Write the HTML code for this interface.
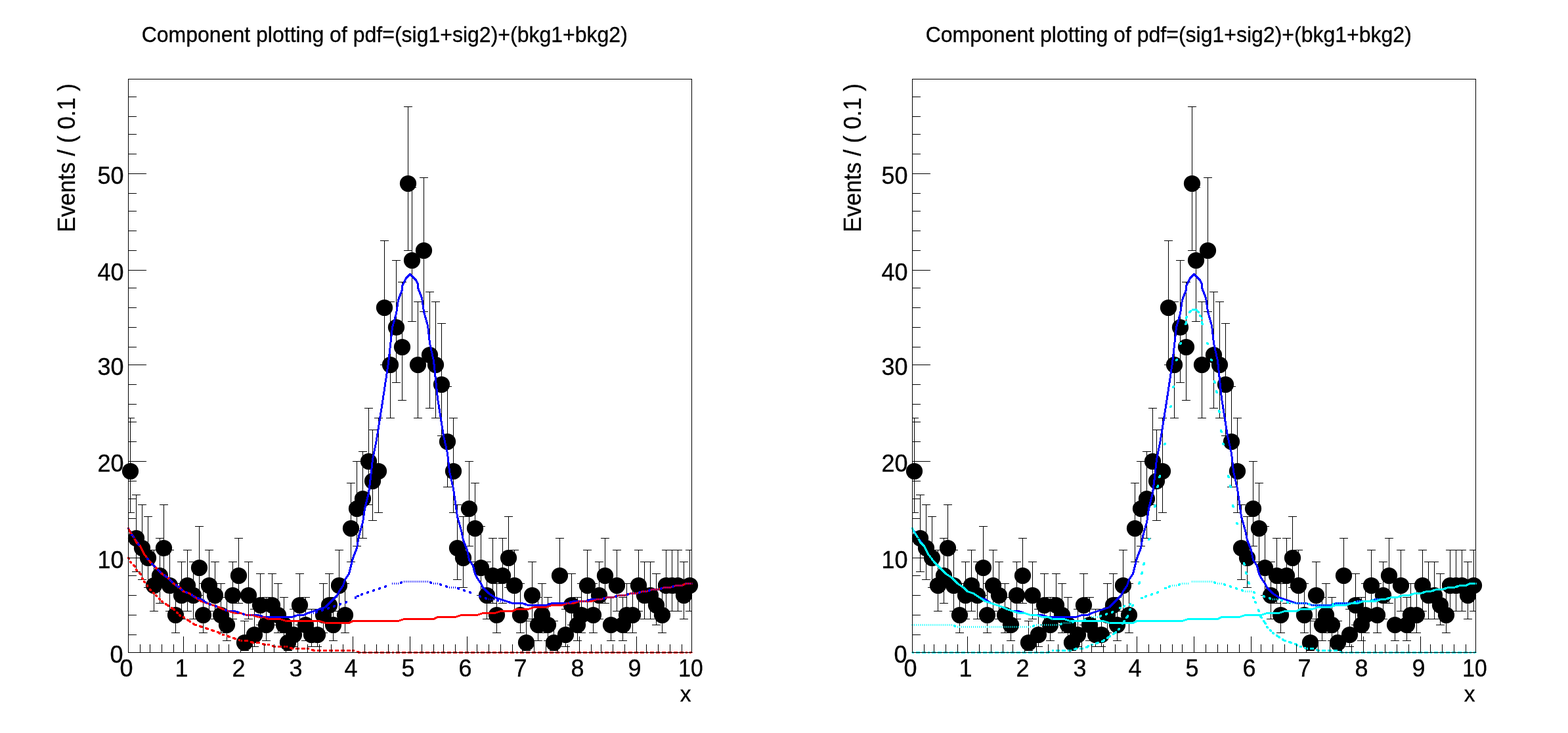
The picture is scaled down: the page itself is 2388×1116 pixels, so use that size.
<!DOCTYPE html>
<html lang="en"><head><meta charset="utf-8"><title>rf205_compplot</title>
<style>html,body{margin:0;padding:0;background:#fff;overflow:hidden}svg{display:block}</style>
</head><body>
<svg width="2388" height="1116" viewBox="0 0 2388 1116">
<rect width="2388" height="1116" fill="#fff"/>
<defs>
<clipPath id="clip0"><rect x="194" y="119" width="861" height="876"/></clipPath>
<clipPath id="clip1"><rect x="1388" y="119" width="861" height="876"/></clipPath>
</defs>
<g shape-rendering="crispEdges">
<rect x="198" y="636" width="1" height="145" fill="#000"/>
<rect x="195" y="636" width="10" height="1" fill="#000"/>
<rect x="195" y="780" width="10" height="1" fill="#000"/>
<rect x="207" y="753" width="1" height="118" fill="#000"/>
<rect x="201" y="753" width="13" height="1" fill="#000"/>
<rect x="201" y="870" width="13" height="1" fill="#000"/>
<rect x="216" y="768" width="1" height="115" fill="#000"/>
<rect x="210" y="768" width="13" height="1" fill="#000"/>
<rect x="210" y="882" width="13" height="1" fill="#000"/>
<rect x="225" y="786" width="1" height="109" fill="#000"/>
<rect x="219" y="786" width="13" height="1" fill="#000"/>
<rect x="219" y="894" width="13" height="1" fill="#000"/>
<rect x="234" y="837" width="1" height="94" fill="#000"/>
<rect x="228" y="837" width="13" height="1" fill="#000"/>
<rect x="228" y="930" width="13" height="1" fill="#000"/>
<rect x="243" y="819" width="1" height="100" fill="#000"/>
<rect x="237" y="819" width="13" height="1" fill="#000"/>
<rect x="237" y="918" width="13" height="1" fill="#000"/>
<rect x="249" y="768" width="1" height="115" fill="#000"/>
<rect x="243" y="768" width="13" height="1" fill="#000"/>
<rect x="243" y="882" width="13" height="1" fill="#000"/>
<rect x="258" y="837" width="1" height="94" fill="#000"/>
<rect x="252" y="837" width="13" height="1" fill="#000"/>
<rect x="252" y="930" width="13" height="1" fill="#000"/>
<rect x="267" y="888" width="1" height="76" fill="#000"/>
<rect x="261" y="888" width="13" height="1" fill="#000"/>
<rect x="261" y="963" width="13" height="1" fill="#000"/>
<rect x="276" y="855" width="1" height="88" fill="#000"/>
<rect x="270" y="855" width="13" height="1" fill="#000"/>
<rect x="270" y="942" width="13" height="1" fill="#000"/>
<rect x="285" y="837" width="1" height="94" fill="#000"/>
<rect x="279" y="837" width="13" height="1" fill="#000"/>
<rect x="279" y="930" width="13" height="1" fill="#000"/>
<rect x="294" y="855" width="1" height="88" fill="#000"/>
<rect x="288" y="855" width="13" height="1" fill="#000"/>
<rect x="288" y="942" width="13" height="1" fill="#000"/>
<rect x="303" y="801" width="1" height="106" fill="#000"/>
<rect x="297" y="801" width="13" height="1" fill="#000"/>
<rect x="297" y="906" width="13" height="1" fill="#000"/>
<rect x="309" y="888" width="1" height="76" fill="#000"/>
<rect x="303" y="888" width="13" height="1" fill="#000"/>
<rect x="303" y="963" width="13" height="1" fill="#000"/>
<rect x="318" y="837" width="1" height="94" fill="#000"/>
<rect x="312" y="837" width="13" height="1" fill="#000"/>
<rect x="312" y="930" width="13" height="1" fill="#000"/>
<rect x="327" y="855" width="1" height="88" fill="#000"/>
<rect x="321" y="855" width="13" height="1" fill="#000"/>
<rect x="321" y="942" width="13" height="1" fill="#000"/>
<rect x="336" y="888" width="1" height="76" fill="#000"/>
<rect x="330" y="888" width="13" height="1" fill="#000"/>
<rect x="330" y="963" width="13" height="1" fill="#000"/>
<rect x="345" y="909" width="1" height="67" fill="#000"/>
<rect x="339" y="909" width="13" height="1" fill="#000"/>
<rect x="339" y="975" width="13" height="1" fill="#000"/>
<rect x="354" y="855" width="1" height="88" fill="#000"/>
<rect x="348" y="855" width="13" height="1" fill="#000"/>
<rect x="348" y="942" width="13" height="1" fill="#000"/>
<rect x="363" y="819" width="1" height="100" fill="#000"/>
<rect x="357" y="819" width="13" height="1" fill="#000"/>
<rect x="357" y="918" width="13" height="1" fill="#000"/>
<rect x="372" y="945" width="1" height="46" fill="#000"/>
<rect x="366" y="945" width="13" height="1" fill="#000"/>
<rect x="366" y="990" width="13" height="1" fill="#000"/>
<rect x="378" y="855" width="1" height="88" fill="#000"/>
<rect x="372" y="855" width="13" height="1" fill="#000"/>
<rect x="372" y="942" width="13" height="1" fill="#000"/>
<rect x="387" y="927" width="1" height="58" fill="#000"/>
<rect x="381" y="927" width="13" height="1" fill="#000"/>
<rect x="381" y="984" width="13" height="1" fill="#000"/>
<rect x="396" y="873" width="1" height="79" fill="#000"/>
<rect x="390" y="873" width="13" height="1" fill="#000"/>
<rect x="390" y="951" width="13" height="1" fill="#000"/>
<rect x="405" y="909" width="1" height="67" fill="#000"/>
<rect x="399" y="909" width="13" height="1" fill="#000"/>
<rect x="399" y="975" width="13" height="1" fill="#000"/>
<rect x="414" y="873" width="1" height="79" fill="#000"/>
<rect x="408" y="873" width="13" height="1" fill="#000"/>
<rect x="408" y="951" width="13" height="1" fill="#000"/>
<rect x="423" y="888" width="1" height="76" fill="#000"/>
<rect x="417" y="888" width="13" height="1" fill="#000"/>
<rect x="417" y="963" width="13" height="1" fill="#000"/>
<rect x="432" y="909" width="1" height="67" fill="#000"/>
<rect x="426" y="909" width="13" height="1" fill="#000"/>
<rect x="426" y="975" width="13" height="1" fill="#000"/>
<rect x="438" y="945" width="1" height="46" fill="#000"/>
<rect x="432" y="945" width="13" height="1" fill="#000"/>
<rect x="432" y="990" width="13" height="1" fill="#000"/>
<rect x="447" y="927" width="1" height="58" fill="#000"/>
<rect x="441" y="927" width="13" height="1" fill="#000"/>
<rect x="441" y="984" width="13" height="1" fill="#000"/>
<rect x="456" y="873" width="1" height="79" fill="#000"/>
<rect x="450" y="873" width="13" height="1" fill="#000"/>
<rect x="450" y="951" width="13" height="1" fill="#000"/>
<rect x="465" y="909" width="1" height="67" fill="#000"/>
<rect x="459" y="909" width="13" height="1" fill="#000"/>
<rect x="459" y="975" width="13" height="1" fill="#000"/>
<rect x="474" y="927" width="1" height="58" fill="#000"/>
<rect x="468" y="927" width="13" height="1" fill="#000"/>
<rect x="468" y="984" width="13" height="1" fill="#000"/>
<rect x="483" y="927" width="1" height="58" fill="#000"/>
<rect x="477" y="927" width="13" height="1" fill="#000"/>
<rect x="477" y="984" width="13" height="1" fill="#000"/>
<rect x="492" y="888" width="1" height="76" fill="#000"/>
<rect x="486" y="888" width="13" height="1" fill="#000"/>
<rect x="486" y="963" width="13" height="1" fill="#000"/>
<rect x="501" y="873" width="1" height="79" fill="#000"/>
<rect x="495" y="873" width="13" height="1" fill="#000"/>
<rect x="495" y="951" width="13" height="1" fill="#000"/>
<rect x="507" y="909" width="1" height="67" fill="#000"/>
<rect x="501" y="909" width="13" height="1" fill="#000"/>
<rect x="501" y="975" width="13" height="1" fill="#000"/>
<rect x="516" y="837" width="1" height="94" fill="#000"/>
<rect x="510" y="837" width="13" height="1" fill="#000"/>
<rect x="510" y="930" width="13" height="1" fill="#000"/>
<rect x="525" y="888" width="1" height="76" fill="#000"/>
<rect x="519" y="888" width="13" height="1" fill="#000"/>
<rect x="519" y="963" width="13" height="1" fill="#000"/>
<rect x="534" y="735" width="1" height="121" fill="#000"/>
<rect x="528" y="735" width="13" height="1" fill="#000"/>
<rect x="528" y="855" width="13" height="1" fill="#000"/>
<rect x="543" y="702" width="1" height="130" fill="#000"/>
<rect x="537" y="702" width="13" height="1" fill="#000"/>
<rect x="537" y="831" width="13" height="1" fill="#000"/>
<rect x="552" y="687" width="1" height="133" fill="#000"/>
<rect x="546" y="687" width="13" height="1" fill="#000"/>
<rect x="546" y="819" width="13" height="1" fill="#000"/>
<rect x="561" y="621" width="1" height="148" fill="#000"/>
<rect x="555" y="621" width="13" height="1" fill="#000"/>
<rect x="555" y="768" width="13" height="1" fill="#000"/>
<rect x="567" y="654" width="1" height="139" fill="#000"/>
<rect x="561" y="654" width="13" height="1" fill="#000"/>
<rect x="561" y="792" width="13" height="1" fill="#000"/>
<rect x="576" y="636" width="1" height="145" fill="#000"/>
<rect x="570" y="636" width="13" height="1" fill="#000"/>
<rect x="570" y="780" width="13" height="1" fill="#000"/>
<rect x="585" y="366" width="1" height="190" fill="#000"/>
<rect x="579" y="366" width="13" height="1" fill="#000"/>
<rect x="579" y="555" width="13" height="1" fill="#000"/>
<rect x="594" y="459" width="1" height="178" fill="#000"/>
<rect x="588" y="459" width="13" height="1" fill="#000"/>
<rect x="588" y="636" width="13" height="1" fill="#000"/>
<rect x="603" y="396" width="1" height="187" fill="#000"/>
<rect x="597" y="396" width="13" height="1" fill="#000"/>
<rect x="597" y="582" width="13" height="1" fill="#000"/>
<rect x="612" y="429" width="1" height="181" fill="#000"/>
<rect x="606" y="429" width="13" height="1" fill="#000"/>
<rect x="606" y="609" width="13" height="1" fill="#000"/>
<rect x="621" y="162" width="1" height="220" fill="#000"/>
<rect x="615" y="162" width="13" height="1" fill="#000"/>
<rect x="615" y="381" width="13" height="1" fill="#000"/>
<rect x="627" y="285" width="1" height="205" fill="#000"/>
<rect x="621" y="285" width="13" height="1" fill="#000"/>
<rect x="621" y="489" width="13" height="1" fill="#000"/>
<rect x="636" y="459" width="1" height="178" fill="#000"/>
<rect x="630" y="459" width="13" height="1" fill="#000"/>
<rect x="630" y="636" width="13" height="1" fill="#000"/>
<rect x="645" y="270" width="1" height="205" fill="#000"/>
<rect x="639" y="270" width="13" height="1" fill="#000"/>
<rect x="639" y="474" width="13" height="1" fill="#000"/>
<rect x="654" y="444" width="1" height="178" fill="#000"/>
<rect x="648" y="444" width="13" height="1" fill="#000"/>
<rect x="648" y="621" width="13" height="1" fill="#000"/>
<rect x="663" y="459" width="1" height="178" fill="#000"/>
<rect x="657" y="459" width="13" height="1" fill="#000"/>
<rect x="657" y="636" width="13" height="1" fill="#000"/>
<rect x="672" y="492" width="1" height="172" fill="#000"/>
<rect x="666" y="492" width="13" height="1" fill="#000"/>
<rect x="666" y="663" width="13" height="1" fill="#000"/>
<rect x="681" y="588" width="1" height="154" fill="#000"/>
<rect x="675" y="588" width="13" height="1" fill="#000"/>
<rect x="675" y="741" width="13" height="1" fill="#000"/>
<rect x="690" y="636" width="1" height="145" fill="#000"/>
<rect x="684" y="636" width="13" height="1" fill="#000"/>
<rect x="684" y="780" width="13" height="1" fill="#000"/>
<rect x="696" y="768" width="1" height="115" fill="#000"/>
<rect x="690" y="768" width="13" height="1" fill="#000"/>
<rect x="690" y="882" width="13" height="1" fill="#000"/>
<rect x="705" y="786" width="1" height="109" fill="#000"/>
<rect x="699" y="786" width="13" height="1" fill="#000"/>
<rect x="699" y="894" width="13" height="1" fill="#000"/>
<rect x="714" y="702" width="1" height="130" fill="#000"/>
<rect x="708" y="702" width="13" height="1" fill="#000"/>
<rect x="708" y="831" width="13" height="1" fill="#000"/>
<rect x="723" y="735" width="1" height="121" fill="#000"/>
<rect x="717" y="735" width="13" height="1" fill="#000"/>
<rect x="717" y="855" width="13" height="1" fill="#000"/>
<rect x="732" y="801" width="1" height="106" fill="#000"/>
<rect x="726" y="801" width="13" height="1" fill="#000"/>
<rect x="726" y="906" width="13" height="1" fill="#000"/>
<rect x="741" y="855" width="1" height="88" fill="#000"/>
<rect x="735" y="855" width="13" height="1" fill="#000"/>
<rect x="735" y="942" width="13" height="1" fill="#000"/>
<rect x="750" y="819" width="1" height="100" fill="#000"/>
<rect x="744" y="819" width="13" height="1" fill="#000"/>
<rect x="744" y="918" width="13" height="1" fill="#000"/>
<rect x="756" y="888" width="1" height="76" fill="#000"/>
<rect x="750" y="888" width="13" height="1" fill="#000"/>
<rect x="750" y="963" width="13" height="1" fill="#000"/>
<rect x="765" y="819" width="1" height="100" fill="#000"/>
<rect x="759" y="819" width="13" height="1" fill="#000"/>
<rect x="759" y="918" width="13" height="1" fill="#000"/>
<rect x="774" y="786" width="1" height="109" fill="#000"/>
<rect x="768" y="786" width="13" height="1" fill="#000"/>
<rect x="768" y="894" width="13" height="1" fill="#000"/>
<rect x="783" y="837" width="1" height="94" fill="#000"/>
<rect x="777" y="837" width="13" height="1" fill="#000"/>
<rect x="777" y="930" width="13" height="1" fill="#000"/>
<rect x="792" y="888" width="1" height="76" fill="#000"/>
<rect x="786" y="888" width="13" height="1" fill="#000"/>
<rect x="786" y="963" width="13" height="1" fill="#000"/>
<rect x="801" y="945" width="1" height="46" fill="#000"/>
<rect x="795" y="945" width="13" height="1" fill="#000"/>
<rect x="795" y="990" width="13" height="1" fill="#000"/>
<rect x="810" y="855" width="1" height="88" fill="#000"/>
<rect x="804" y="855" width="13" height="1" fill="#000"/>
<rect x="804" y="942" width="13" height="1" fill="#000"/>
<rect x="819" y="909" width="1" height="67" fill="#000"/>
<rect x="813" y="909" width="13" height="1" fill="#000"/>
<rect x="813" y="975" width="13" height="1" fill="#000"/>
<rect x="825" y="888" width="1" height="76" fill="#000"/>
<rect x="819" y="888" width="13" height="1" fill="#000"/>
<rect x="819" y="963" width="13" height="1" fill="#000"/>
<rect x="834" y="909" width="1" height="67" fill="#000"/>
<rect x="828" y="909" width="13" height="1" fill="#000"/>
<rect x="828" y="975" width="13" height="1" fill="#000"/>
<rect x="843" y="945" width="1" height="46" fill="#000"/>
<rect x="837" y="945" width="13" height="1" fill="#000"/>
<rect x="837" y="990" width="13" height="1" fill="#000"/>
<rect x="852" y="819" width="1" height="100" fill="#000"/>
<rect x="846" y="819" width="13" height="1" fill="#000"/>
<rect x="846" y="918" width="13" height="1" fill="#000"/>
<rect x="861" y="927" width="1" height="58" fill="#000"/>
<rect x="855" y="927" width="13" height="1" fill="#000"/>
<rect x="855" y="984" width="13" height="1" fill="#000"/>
<rect x="870" y="873" width="1" height="79" fill="#000"/>
<rect x="864" y="873" width="13" height="1" fill="#000"/>
<rect x="864" y="951" width="13" height="1" fill="#000"/>
<rect x="879" y="909" width="1" height="67" fill="#000"/>
<rect x="873" y="909" width="13" height="1" fill="#000"/>
<rect x="873" y="975" width="13" height="1" fill="#000"/>
<rect x="885" y="888" width="1" height="76" fill="#000"/>
<rect x="879" y="888" width="13" height="1" fill="#000"/>
<rect x="879" y="963" width="13" height="1" fill="#000"/>
<rect x="894" y="837" width="1" height="94" fill="#000"/>
<rect x="888" y="837" width="13" height="1" fill="#000"/>
<rect x="888" y="930" width="13" height="1" fill="#000"/>
<rect x="903" y="888" width="1" height="76" fill="#000"/>
<rect x="897" y="888" width="13" height="1" fill="#000"/>
<rect x="897" y="963" width="13" height="1" fill="#000"/>
<rect x="912" y="855" width="1" height="88" fill="#000"/>
<rect x="906" y="855" width="13" height="1" fill="#000"/>
<rect x="906" y="942" width="13" height="1" fill="#000"/>
<rect x="921" y="819" width="1" height="100" fill="#000"/>
<rect x="915" y="819" width="13" height="1" fill="#000"/>
<rect x="915" y="918" width="13" height="1" fill="#000"/>
<rect x="930" y="909" width="1" height="67" fill="#000"/>
<rect x="924" y="909" width="13" height="1" fill="#000"/>
<rect x="924" y="975" width="13" height="1" fill="#000"/>
<rect x="939" y="837" width="1" height="94" fill="#000"/>
<rect x="933" y="837" width="13" height="1" fill="#000"/>
<rect x="933" y="930" width="13" height="1" fill="#000"/>
<rect x="948" y="909" width="1" height="67" fill="#000"/>
<rect x="942" y="909" width="13" height="1" fill="#000"/>
<rect x="942" y="975" width="13" height="1" fill="#000"/>
<rect x="954" y="888" width="1" height="76" fill="#000"/>
<rect x="948" y="888" width="13" height="1" fill="#000"/>
<rect x="948" y="963" width="13" height="1" fill="#000"/>
<rect x="963" y="888" width="1" height="76" fill="#000"/>
<rect x="957" y="888" width="13" height="1" fill="#000"/>
<rect x="957" y="963" width="13" height="1" fill="#000"/>
<rect x="972" y="837" width="1" height="94" fill="#000"/>
<rect x="966" y="837" width="13" height="1" fill="#000"/>
<rect x="966" y="930" width="13" height="1" fill="#000"/>
<rect x="981" y="855" width="1" height="88" fill="#000"/>
<rect x="975" y="855" width="13" height="1" fill="#000"/>
<rect x="975" y="942" width="13" height="1" fill="#000"/>
<rect x="990" y="855" width="1" height="88" fill="#000"/>
<rect x="984" y="855" width="13" height="1" fill="#000"/>
<rect x="984" y="942" width="13" height="1" fill="#000"/>
<rect x="999" y="873" width="1" height="79" fill="#000"/>
<rect x="993" y="873" width="13" height="1" fill="#000"/>
<rect x="993" y="951" width="13" height="1" fill="#000"/>
<rect x="1008" y="888" width="1" height="76" fill="#000"/>
<rect x="1002" y="888" width="13" height="1" fill="#000"/>
<rect x="1002" y="963" width="13" height="1" fill="#000"/>
<rect x="1014" y="837" width="1" height="94" fill="#000"/>
<rect x="1008" y="837" width="13" height="1" fill="#000"/>
<rect x="1008" y="930" width="13" height="1" fill="#000"/>
<rect x="1023" y="837" width="1" height="94" fill="#000"/>
<rect x="1017" y="837" width="13" height="1" fill="#000"/>
<rect x="1017" y="930" width="13" height="1" fill="#000"/>
<rect x="1032" y="837" width="1" height="94" fill="#000"/>
<rect x="1026" y="837" width="13" height="1" fill="#000"/>
<rect x="1026" y="930" width="13" height="1" fill="#000"/>
<rect x="1041" y="855" width="1" height="88" fill="#000"/>
<rect x="1035" y="855" width="13" height="1" fill="#000"/>
<rect x="1035" y="942" width="13" height="1" fill="#000"/>
<rect x="1050" y="837" width="1" height="94" fill="#000"/>
<rect x="1044" y="837" width="10" height="1" fill="#000"/>
<rect x="1044" y="930" width="10" height="1" fill="#000"/>
</g>
<g fill="#000">
<circle cx="198.5" cy="717.5" r="12.6"/>
<circle cx="207.5" cy="819.5" r="12.6"/>
<circle cx="216.5" cy="834.5" r="12.6"/>
<circle cx="225.5" cy="849.5" r="12.6"/>
<circle cx="234.5" cy="891.5" r="12.6"/>
<circle cx="243.5" cy="876.5" r="12.6"/>
<circle cx="249.5" cy="834.5" r="12.6"/>
<circle cx="258.5" cy="891.5" r="12.6"/>
<circle cx="267.5" cy="936.5" r="12.6"/>
<circle cx="276.5" cy="906.5" r="12.6"/>
<circle cx="285.5" cy="891.5" r="12.6"/>
<circle cx="294.5" cy="906.5" r="12.6"/>
<circle cx="303.5" cy="864.5" r="12.6"/>
<circle cx="309.5" cy="936.5" r="12.6"/>
<circle cx="318.5" cy="891.5" r="12.6"/>
<circle cx="327.5" cy="906.5" r="12.6"/>
<circle cx="336.5" cy="936.5" r="12.6"/>
<circle cx="345.5" cy="951.5" r="12.6"/>
<circle cx="354.5" cy="906.5" r="12.6"/>
<circle cx="363.5" cy="876.5" r="12.6"/>
<circle cx="372.5" cy="978.5" r="12.6"/>
<circle cx="378.5" cy="906.5" r="12.6"/>
<circle cx="387.5" cy="966.5" r="12.6"/>
<circle cx="396.5" cy="921.5" r="12.6"/>
<circle cx="405.5" cy="951.5" r="12.6"/>
<circle cx="414.5" cy="921.5" r="12.6"/>
<circle cx="423.5" cy="936.5" r="12.6"/>
<circle cx="432.5" cy="951.5" r="12.6"/>
<circle cx="438.5" cy="978.5" r="12.6"/>
<circle cx="447.5" cy="966.5" r="12.6"/>
<circle cx="456.5" cy="921.5" r="12.6"/>
<circle cx="465.5" cy="951.5" r="12.6"/>
<circle cx="474.5" cy="966.5" r="12.6"/>
<circle cx="483.5" cy="966.5" r="12.6"/>
<circle cx="492.5" cy="936.5" r="12.6"/>
<circle cx="501.5" cy="921.5" r="12.6"/>
<circle cx="507.5" cy="951.5" r="12.6"/>
<circle cx="516.5" cy="891.5" r="12.6"/>
<circle cx="525.5" cy="936.5" r="12.6"/>
<circle cx="534.5" cy="804.5" r="12.6"/>
<circle cx="543.5" cy="774.5" r="12.6"/>
<circle cx="552.5" cy="759.5" r="12.6"/>
<circle cx="561.5" cy="702.5" r="12.6"/>
<circle cx="567.5" cy="732.5" r="12.6"/>
<circle cx="576.5" cy="717.5" r="12.6"/>
<circle cx="585.5" cy="468.5" r="12.6"/>
<circle cx="594.5" cy="555.5" r="12.6"/>
<circle cx="603.5" cy="498.5" r="12.6"/>
<circle cx="612.5" cy="528.5" r="12.6"/>
<circle cx="621.5" cy="279.5" r="12.6"/>
<circle cx="627.5" cy="396.5" r="12.6"/>
<circle cx="636.5" cy="555.5" r="12.6"/>
<circle cx="645.5" cy="381.5" r="12.6"/>
<circle cx="654.5" cy="540.5" r="12.6"/>
<circle cx="663.5" cy="555.5" r="12.6"/>
<circle cx="672.5" cy="585.5" r="12.6"/>
<circle cx="681.5" cy="672.5" r="12.6"/>
<circle cx="690.5" cy="717.5" r="12.6"/>
<circle cx="696.5" cy="834.5" r="12.6"/>
<circle cx="705.5" cy="849.5" r="12.6"/>
<circle cx="714.5" cy="774.5" r="12.6"/>
<circle cx="723.5" cy="804.5" r="12.6"/>
<circle cx="732.5" cy="864.5" r="12.6"/>
<circle cx="741.5" cy="906.5" r="12.6"/>
<circle cx="750.5" cy="876.5" r="12.6"/>
<circle cx="756.5" cy="936.5" r="12.6"/>
<circle cx="765.5" cy="876.5" r="12.6"/>
<circle cx="774.5" cy="849.5" r="12.6"/>
<circle cx="783.5" cy="891.5" r="12.6"/>
<circle cx="792.5" cy="936.5" r="12.6"/>
<circle cx="801.5" cy="978.5" r="12.6"/>
<circle cx="810.5" cy="906.5" r="12.6"/>
<circle cx="819.5" cy="951.5" r="12.6"/>
<circle cx="825.5" cy="936.5" r="12.6"/>
<circle cx="834.5" cy="951.5" r="12.6"/>
<circle cx="843.5" cy="978.5" r="12.6"/>
<circle cx="852.5" cy="876.5" r="12.6"/>
<circle cx="861.5" cy="966.5" r="12.6"/>
<circle cx="870.5" cy="921.5" r="12.6"/>
<circle cx="879.5" cy="951.5" r="12.6"/>
<circle cx="885.5" cy="936.5" r="12.6"/>
<circle cx="894.5" cy="891.5" r="12.6"/>
<circle cx="903.5" cy="936.5" r="12.6"/>
<circle cx="912.5" cy="906.5" r="12.6"/>
<circle cx="921.5" cy="876.5" r="12.6"/>
<circle cx="930.5" cy="951.5" r="12.6"/>
<circle cx="939.5" cy="891.5" r="12.6"/>
<circle cx="948.5" cy="951.5" r="12.6"/>
<circle cx="954.5" cy="936.5" r="12.6"/>
<circle cx="963.5" cy="936.5" r="12.6"/>
<circle cx="972.5" cy="891.5" r="12.6"/>
<circle cx="981.5" cy="906.5" r="12.6"/>
<circle cx="990.5" cy="906.5" r="12.6"/>
<circle cx="999.5" cy="921.5" r="12.6"/>
<circle cx="1008.5" cy="936.5" r="12.6"/>
<circle cx="1014.5" cy="891.5" r="12.6"/>
<circle cx="1023.5" cy="891.5" r="12.6"/>
<circle cx="1032.5" cy="891.5" r="12.6"/>
<circle cx="1041.5" cy="906.5" r="12.6"/>
<circle cx="1050.5" cy="891.5" r="12.6"/>
</g>
<g fill="none" stroke-width="3" shape-rendering="crispEdges" clip-path="url(#clip0)">
<path d="M195.5 804.5 L204.5 819.5 L213.5 831.5 L219.5 843.5 L228.5 855.5 L237.5 864.5 L246.5 873.5 L255.5 879.5 L264.5 888.5 L273.5 894.5 L279.5 900.5 L288.5 903.5 L297.5 909.5 L306.5 912.5 L315.5 918.5 L324.5 921.5 L333.5 924.5 L339.5 927.5 L348.5 930.5 L357.5 930.5 L366.5 933.5 L375.5 936.5 L384.5 936.5 L393.5 936.5 L402.5 939.5 L408.5 939.5 L417.5 939.5 L426.5 939.5 L435.5 939.5 L444.5 939.5 L453.5 936.5 L462.5 936.5 L468.5 933.5 L477.5 930.5 L486.5 927.5 L495.5 924.5 L504.5 915.5 L513.5 906.5 L516.5 900.5 L522.5 891.5 L525.5 882.5 L531.5 873.5 L534.5 861.5 L537.5 849.5 L543.5 834.5 L546.5 816.5 L552.5 795.5 L555.5 774.5 L561.5 750.5 L564.5 726.5 L567.5 699.5 L573.5 669.5 L582.5 612.5 L591.5 552.5 L594.5 525.5 L597.5 498.5 L603.5 477.5 L606.5 456.5 L612.5 441.5 L612.5 435.5 L615.5 429.5 L618.5 423.5 L621.5 420.5 L624.5 417.5 L627.5 420.5 L630.5 423.5 L633.5 426.5 L636.5 432.5 L636.5 438.5 L642.5 453.5 L645.5 474.5 L651.5 495.5 L654.5 522.5 L660.5 549.5 L666.5 606.5 L675.5 663.5 L681.5 690.5 L684.5 717.5 L690.5 744.5 L693.5 765.5 L696.5 786.5 L702.5 807.5 L705.5 822.5 L711.5 837.5 L714.5 852.5 L720.5 861.5 L723.5 873.5 L726.5 879.5 L732.5 888.5 L735.5 894.5 L744.5 903.5 L753.5 909.5 L762.5 912.5 L771.5 915.5 L780.5 918.5 L786.5 918.5 L795.5 918.5 L804.5 921.5 L813.5 921.5 L822.5 921.5 L831.5 921.5 L840.5 918.5 L849.5 918.5 L855.5 918.5 L864.5 918.5 L873.5 915.5 L882.5 915.5 L891.5 915.5 L900.5 912.5 L909.5 912.5 L915.5 912.5 L924.5 909.5 L933.5 909.5 L942.5 906.5 L951.5 906.5 L960.5 903.5 L969.5 903.5 L978.5 900.5 L984.5 900.5 L993.5 897.5 L1002.5 897.5 L1011.5 894.5 L1020.5 894.5 L1029.5 891.5 L1038.5 891.5 L1044.5 888.5 L1053.5 888.5" stroke="#0000ff" stroke-linejoin="round" stroke-linecap="square"/>
<path d="M195.5 804.5 L198.5 810.5 L204.5 819.5 L207.5 825.5 L213.5 831.5 L216.5 837.5 L219.5 843.5 L228.5 855.5 L237.5 864.5 L246.5 873.5 L255.5 879.5 L264.5 888.5 L273.5 894.5 L279.5 900.5 L288.5 903.5 L297.5 909.5 L306.5 915.5 L315.5 918.5 L324.5 921.5 L333.5 924.5 L339.5 927.5 L348.5 930.5 L357.5 933.5 L366.5 933.5 L375.5 936.5 L384.5 936.5 L393.5 939.5 L402.5 939.5 L408.5 942.5 L417.5 942.5 L426.5 942.5 L435.5 945.5 L444.5 945.5 L453.5 945.5 L462.5 945.5 L468.5 945.5 L477.5 945.5 L486.5 945.5 L495.5 948.5 L504.5 948.5 L513.5 948.5 L522.5 948.5 L531.5 948.5 L537.5 945.5 L546.5 945.5 L555.5 945.5 L564.5 945.5 L573.5 945.5 L582.5 945.5 L591.5 945.5 L597.5 945.5 L606.5 945.5 L615.5 942.5 L624.5 942.5 L633.5 942.5 L642.5 942.5 L651.5 942.5 L660.5 942.5 L666.5 939.5 L675.5 939.5 L684.5 939.5 L693.5 939.5 L702.5 936.5 L711.5 936.5 L720.5 936.5 L726.5 936.5 L735.5 933.5 L744.5 933.5 L753.5 933.5 L762.5 930.5 L771.5 930.5 L780.5 930.5 L786.5 927.5 L795.5 927.5 L804.5 927.5 L813.5 924.5 L822.5 924.5 L831.5 924.5 L840.5 921.5 L849.5 921.5 L855.5 921.5 L864.5 918.5 L873.5 918.5 L882.5 915.5 L891.5 915.5 L900.5 915.5 L909.5 912.5 L915.5 912.5 L924.5 909.5 L933.5 909.5 L942.5 906.5 L951.5 906.5 L960.5 903.5 L969.5 903.5 L978.5 900.5 L984.5 900.5 L993.5 897.5 L1002.5 897.5 L1011.5 894.5 L1020.5 894.5 L1029.5 891.5 L1038.5 891.5 L1044.5 888.5 L1053.5 888.5" stroke="#ff0000" stroke-linejoin="round" stroke-linecap="square"/>
<path d="M194 848h3v1h-3zM194 849h4v2h-4zM195 851h3v1h-3zM197 854h3v1h-3zM197 855h4v2h-4zM198 857h3v1h-3zM202 859h3v1h-3zM202 860h4v1h-4zM202 861h5v1h-5zM203 862h4v1h-4zM204 863h3v1h-3zM206 866h3v1h-3zM206 867h4v2h-4zM207 869h3v1h-3zM211 871h3v1h-3zM211 872h4v1h-4zM211 873h5v1h-5zM212 874h4v1h-4zM213 875h3v1h-3zM215 879h3v1h-3zM215 880h4v2h-4zM216 882h3v1h-3zM218 884h3v1h-3zM218 885h4v2h-4zM219 887h3v1h-3zM223 890h3v4h-3zM227 896h3v1h-3zM227 897h4v2h-4zM228 899h3v1h-3zM232 901h3v1h-3zM232 902h4v2h-4zM233 904h3v1h-3zM236 905h3v1h-3zM236 906h4v2h-4zM237 908h3v1h-3zM241 910h3v1h-3zM241 911h4v2h-4zM242 913h3v1h-3zM245 914h3v1h-3zM245 915h4v2h-4zM246 917h3v1h-3zM251 918h3v1h-3zM251 919h4v1h-4zM251 920h6v1h-6zM252 921h6v1h-6zM254 922h4v1h-4zM255 923h3v1h-3zM260 924h3v1h-3zM260 925h4v1h-4zM260 926h6v1h-6zM261 927h6v1h-6zM263 928h4v1h-4zM264 929h3v1h-3zM268 931h3v1h-3zM268 932h4v2h-4zM269 934h3v1h-3zM272 935h3v1h-3zM272 936h4v2h-4zM273 938h3v1h-3zM278 938h3v1h-3zM278 939h4v2h-4zM279 941h3v1h-3zM284 942h3v1h-3zM284 943h4v1h-4zM284 944h6v1h-6zM285 945h6v1h-6zM287 946h4v1h-4zM288 947h3v1h-3zM293 948h3v1h-3zM293 949h4v1h-4zM293 950h7v1h-7zM294 951h6v1h-6zM296 952h4v1h-4zM303 952h4v1h-4zM303 953h6v2h-6zM305 955h4v1h-4zM312 955h4v1h-4zM312 956h6v2h-6zM314 958h4v1h-4zM321 958h4v1h-4zM321 959h6v2h-6zM323 961h4v1h-4zM330 961h4v1h-4zM330 962h5v1h-5zM330 963h6v1h-6zM332 964h4v1h-4zM333 965h3v1h-3zM338 965h4v3h-4zM345 967h4v1h-4zM345 968h6v2h-6zM347 970h4v1h-4zM354 970h4v1h-4zM354 971h6v2h-6zM356 973h4v1h-4zM363 973h4v1h-4zM363 974h6v2h-6zM372 974h6v3h-6zM365 976h4v1h-4zM381 976h4v1h-4zM381 977h6v2h-6zM390 977h6v3h-6zM383 979h4v1h-4zM399 979h4v1h-4zM399 980h6v2h-6zM407 980h4v3h-4zM401 982h4v1h-4zM414 982h4v1h-4zM414 983h6v2h-6zM423 983h6v3h-6zM432 983h6v3h-6zM416 985h4v1h-4zM441 985h4v1h-4zM441 986h6v2h-6zM450 986h6v3h-6zM459 986h6v3h-6zM467 986h4v3h-4zM443 988h4v1h-4zM474 988h4v1h-4zM474 989h6v2h-6zM483 989h6v3h-6zM492 989h6v3h-6zM501 989h6v3h-6zM510 989h6v3h-6zM519 989h6v3h-6zM528 989h6v3h-6zM536 989h4v3h-4zM476 991h4v1h-4zM543 991h4v1h-4zM543 992h6v2h-6zM552 992h6v3h-6zM561 992h6v3h-6zM570 992h6v3h-6zM579 992h6v3h-6zM588 992h6v3h-6zM597 992h3v3h-3zM603 992h6v3h-6zM612 992h6v3h-6zM621 992h6v3h-6zM630 992h6v3h-6zM639 992h6v3h-6zM648 992h6v3h-6zM657 992h6v3h-6zM666 992h3v3h-3zM672 992h6v3h-6zM681 992h6v3h-6zM690 992h6v3h-6zM699 992h6v3h-6zM708 992h6v3h-6zM717 992h6v3h-6zM726 992h3v3h-3zM732 992h6v3h-6zM741 992h6v3h-6zM750 992h6v3h-6zM759 992h6v3h-6zM768 992h6v3h-6zM777 992h6v3h-6zM786 992h3v3h-3zM792 992h6v3h-6zM801 992h6v3h-6zM810 992h6v3h-6zM819 992h6v3h-6zM828 992h6v3h-6zM837 992h6v3h-6zM846 992h6v3h-6zM855 992h3v3h-3zM861 992h6v3h-6zM870 992h6v3h-6zM879 992h6v3h-6zM888 992h6v3h-6zM897 992h6v3h-6zM906 992h6v3h-6zM915 992h3v3h-3zM921 992h6v3h-6zM930 992h6v3h-6zM939 992h6v3h-6zM948 992h6v3h-6zM957 992h6v3h-6zM966 992h6v3h-6zM975 992h6v3h-6zM984 992h3v3h-3zM990 992h6v3h-6zM999 992h6v3h-6zM1008 992h6v3h-6zM1017 992h6v3h-6zM1026 992h6v3h-6zM1035 992h6v3h-6zM1044 992h3v3h-3zM1050 992h3v1h-3zM1050 993h5v1h-5zM545 994h4v1h-4zM1050 994h3v1h-3z" fill="#ff0000" stroke="none"/>
<path d="M194 804h3v1h-3zM199 813h4v3h-4zM202 816h3v4h-3zM209 827h3v1h-3zM209 828h4v2h-4zM210 830h3v1h-3zM223 849h3v1h-3zM223 850h4v2h-4zM224 852h3v1h-3zM230 857h3v1h-3zM230 858h4v2h-4zM231 860h5v1h-5zM233 861h4v2h-4zM234 863h3v1h-3zM239 866h3v1h-3zM239 867h4v2h-4zM240 869h5v1h-5zM242 870h4v2h-4zM243 872h3v1h-3zM249 874h3v3h-3zM249 877h7v1h-7zM252 878h4v2h-4zM257 881h3v1h-3zM257 882h4v2h-4zM258 884h5v1h-5zM615 884h1v3h-1zM618 884h1v3h-1zM621 884h1v3h-1zM624 884h1v3h-1zM627 884h1v3h-1zM630 884h1v3h-1zM633 884h1v3h-1zM636 884h1v3h-1zM639 884h1v3h-1zM642 884h1v3h-1zM645 884h1v3h-1zM648 884h1v3h-1zM651 884h1v3h-1zM260 885h4v2h-4zM610 885h3v1h-3zM654 885h3v1h-3zM609 886h4v2h-4zM654 886h4v2h-4zM261 887h3v1h-3zM597 887h1v3h-1zM600 887h1v3h-1zM603 887h1v3h-1zM606 887h1v3h-1zM660 887h1v3h-1zM663 887h1v3h-1zM666 887h1v3h-1zM1044 887h1v3h-1zM1047 887h1v3h-1zM1050 887h1v3h-1zM1053 887h1v1h-1zM609 888h3v1h-3zM655 888h3v1h-3zM669 888h3v1h-3zM1052 888h3v1h-3zM267 889h3v3h-3zM669 889h4v2h-4zM1053 889h1v1h-1zM1029 890h1v3h-1zM1032 890h1v3h-1zM1035 890h1v3h-1zM1038 890h1v3h-1zM586 891h3v1h-3zM670 891h3v1h-3zM678 891h3v1h-3zM1024 891h3v1h-3zM267 892h7v1h-7zM585 892h4v2h-4zM678 892h4v2h-4zM1023 892h4v2h-4zM270 893h4v2h-4zM684 893h1v3h-1zM687 893h1v3h-1zM690 893h1v3h-1zM693 893h1v3h-1zM1011 893h1v3h-1zM1014 893h1v3h-1zM1017 893h1v3h-1zM1020 893h1v3h-1zM577 894h3v1h-3zM585 894h3v1h-3zM679 894h3v1h-3zM696 894h3v1h-3zM1006 894h3v1h-3zM1023 894h3v1h-3zM576 895h4v2h-4zM696 895h4v2h-4zM1005 895h4v2h-4zM275 896h3v1h-3zM993 896h1v3h-1zM996 896h1v3h-1zM999 896h1v3h-1zM1002 896h1v3h-1zM275 897h4v2h-4zM568 897h3v1h-3zM576 897h3v1h-3zM697 897h3v1h-3zM705 897h3v1h-3zM988 897h3v1h-3zM1005 897h3v1h-3zM567 898h4v2h-4zM705 898h4v2h-4zM987 898h4v2h-4zM276 899h3v1h-3zM978 899h1v3h-1zM981 899h1v3h-1zM984 899h1v3h-1zM282 900h3v1h-3zM559 900h3v1h-3zM567 900h3v1h-3zM706 900h3v1h-3zM714 900h3v1h-3zM973 900h3v1h-3zM987 900h3v1h-3zM282 901h4v2h-4zM558 901h4v2h-4zM714 901h4v2h-4zM972 901h4v2h-4zM960 902h1v3h-1zM963 902h1v3h-1zM966 902h1v3h-1zM969 902h1v3h-1zM283 903h3v1h-3zM550 903h3v1h-3zM558 903h3v1h-3zM715 903h3v1h-3zM955 903h3v1h-3zM972 903h3v1h-3zM291 904h3v3h-3zM549 904h4v2h-4zM954 904h4v2h-4zM942 905h1v3h-1zM945 905h1v3h-1zM948 905h1v3h-1zM951 905h1v3h-1zM543 906h4v2h-4zM549 906h3v1h-3zM729 906h3v1h-3zM937 906h3v1h-3zM954 906h3v1h-3zM291 907h7v1h-7zM729 907h4v2h-4zM936 907h4v2h-4zM294 908h4v2h-4zM540 908h7v1h-7zM924 908h1v3h-1zM927 908h1v3h-1zM930 908h1v3h-1zM933 908h1v3h-1zM300 909h3v1h-3zM540 909h3v3h-3zM730 909h3v1h-3zM738 909h3v1h-3zM919 909h3v1h-3zM936 909h3v1h-3zM300 910h4v2h-4zM738 910h4v2h-4zM918 910h4v2h-4zM744 911h1v3h-1zM747 911h1v3h-1zM750 911h1v3h-1zM753 911h1v3h-1zM900 911h1v3h-1zM903 911h1v3h-1zM906 911h1v3h-1zM909 911h1v3h-1zM912 911h1v3h-1zM915 911h1v3h-1zM301 912h3v1h-3zM739 912h3v1h-3zM756 912h3v1h-3zM895 912h3v1h-3zM918 912h3v1h-3zM309 913h3v3h-3zM756 913h4v2h-4zM894 913h4v2h-4zM762 914h1v3h-1zM765 914h1v3h-1zM768 914h1v3h-1zM771 914h1v3h-1zM873 914h1v3h-1zM876 914h1v3h-1zM879 914h1v3h-1zM882 914h1v3h-1zM885 914h1v3h-1zM888 914h1v3h-1zM891 914h1v3h-1zM526 915h3v1h-3zM757 915h3v1h-3zM774 915h3v1h-3zM868 915h3v1h-3zM894 915h3v1h-3zM309 916h7v1h-7zM525 916h4v2h-4zM774 916h4v2h-4zM867 916h4v2h-4zM312 917h4v2h-4zM780 917h1v3h-1zM783 917h1v3h-1zM786 917h1v3h-1zM789 917h1v3h-1zM792 917h1v3h-1zM795 917h1v3h-1zM840 917h1v3h-1zM843 917h1v3h-1zM846 917h1v3h-1zM849 917h1v3h-1zM852 917h1v3h-1zM855 917h1v3h-1zM858 917h1v3h-1zM861 917h1v3h-1zM864 917h1v3h-1zM318 918h3v1h-3zM517 918h3v1h-3zM525 918h3v1h-3zM775 918h3v1h-3zM798 918h3v1h-3zM835 918h3v1h-3zM867 918h3v1h-3zM318 919h4v2h-4zM516 919h4v2h-4zM798 919h4v2h-4zM834 919h4v2h-4zM804 920h1v3h-1zM807 920h1v3h-1zM810 920h1v3h-1zM813 920h1v3h-1zM816 920h1v3h-1zM819 920h1v3h-1zM822 920h1v3h-1zM825 920h1v3h-1zM828 920h1v3h-1zM831 920h1v3h-1zM319 921h3v1h-3zM327 921h3v1h-3zM508 921h3v1h-3zM516 921h3v1h-3zM799 921h3v1h-3zM834 921h3v1h-3zM327 922h4v2h-4zM507 922h4v2h-4zM328 924h3v1h-3zM499 924h3v1h-3zM507 924h3v1h-3zM498 925h4v2h-4zM342 927h3v1h-3zM490 927h3v1h-3zM498 927h3v1h-3zM342 928h4v2h-4zM489 928h4v2h-4zM348 929h1v3h-1zM351 929h1v3h-1zM354 929h1v3h-1zM357 929h1v3h-1zM343 930h3v1h-3zM360 930h3v1h-3zM481 930h3v1h-3zM489 930h3v1h-3zM360 931h4v2h-4zM480 931h4v2h-4zM468 932h1v3h-1zM471 932h1v3h-1zM474 932h1v3h-1zM477 932h1v3h-1zM361 933h3v1h-3zM369 933h3v1h-3zM480 933h3v1h-3zM369 934h4v2h-4zM375 935h1v3h-1zM378 935h1v3h-1zM381 935h1v3h-1zM384 935h1v3h-1zM387 935h1v3h-1zM390 935h1v3h-1zM393 935h1v3h-1zM453 935h1v3h-1zM456 935h1v3h-1zM459 935h1v3h-1zM462 935h1v3h-1zM370 936h3v1h-3zM396 936h3v1h-3zM448 936h3v1h-3zM396 937h4v2h-4zM447 937h4v2h-4zM402 938h1v3h-1zM405 938h1v3h-1zM408 938h1v3h-1zM411 938h1v3h-1zM414 938h1v3h-1zM417 938h1v3h-1zM420 938h1v3h-1zM423 938h1v3h-1zM426 938h1v3h-1zM429 938h1v3h-1zM432 938h1v3h-1zM435 938h1v3h-1zM438 938h1v3h-1zM441 938h1v3h-1zM444 938h1v3h-1zM397 939h3v1h-3zM447 939h3v1h-3z" fill="#0000ff" stroke="none"/>
</g>
<g shape-rendering="crispEdges">
<rect x="195" y="120" width="859" height="1" fill="#000"/>
<rect x="195" y="993" width="859" height="1" fill="#000"/>
<rect x="195" y="120" width="1" height="874" fill="#000"/>
<rect x="1053" y="120" width="1" height="874" fill="#000"/>
<rect x="195" y="969" width="1" height="25" fill="#000"/>
<rect x="213" y="981" width="1" height="13" fill="#000"/>
<rect x="228" y="981" width="1" height="13" fill="#000"/>
<rect x="246" y="981" width="1" height="13" fill="#000"/>
<rect x="264" y="981" width="1" height="13" fill="#000"/>
<rect x="279" y="969" width="1" height="25" fill="#000"/>
<rect x="297" y="981" width="1" height="13" fill="#000"/>
<rect x="315" y="981" width="1" height="13" fill="#000"/>
<rect x="333" y="981" width="1" height="13" fill="#000"/>
<rect x="348" y="981" width="1" height="13" fill="#000"/>
<rect x="366" y="969" width="1" height="25" fill="#000"/>
<rect x="384" y="981" width="1" height="13" fill="#000"/>
<rect x="402" y="981" width="1" height="13" fill="#000"/>
<rect x="417" y="981" width="1" height="13" fill="#000"/>
<rect x="435" y="981" width="1" height="13" fill="#000"/>
<rect x="453" y="969" width="1" height="25" fill="#000"/>
<rect x="468" y="981" width="1" height="13" fill="#000"/>
<rect x="486" y="981" width="1" height="13" fill="#000"/>
<rect x="504" y="981" width="1" height="13" fill="#000"/>
<rect x="522" y="981" width="1" height="13" fill="#000"/>
<rect x="537" y="969" width="1" height="25" fill="#000"/>
<rect x="555" y="981" width="1" height="13" fill="#000"/>
<rect x="573" y="981" width="1" height="13" fill="#000"/>
<rect x="591" y="981" width="1" height="13" fill="#000"/>
<rect x="606" y="981" width="1" height="13" fill="#000"/>
<rect x="624" y="969" width="1" height="25" fill="#000"/>
<rect x="642" y="981" width="1" height="13" fill="#000"/>
<rect x="660" y="981" width="1" height="13" fill="#000"/>
<rect x="675" y="981" width="1" height="13" fill="#000"/>
<rect x="693" y="981" width="1" height="13" fill="#000"/>
<rect x="711" y="969" width="1" height="25" fill="#000"/>
<rect x="726" y="981" width="1" height="13" fill="#000"/>
<rect x="744" y="981" width="1" height="13" fill="#000"/>
<rect x="762" y="981" width="1" height="13" fill="#000"/>
<rect x="780" y="981" width="1" height="13" fill="#000"/>
<rect x="795" y="969" width="1" height="25" fill="#000"/>
<rect x="813" y="981" width="1" height="13" fill="#000"/>
<rect x="831" y="981" width="1" height="13" fill="#000"/>
<rect x="849" y="981" width="1" height="13" fill="#000"/>
<rect x="864" y="981" width="1" height="13" fill="#000"/>
<rect x="882" y="969" width="1" height="25" fill="#000"/>
<rect x="900" y="981" width="1" height="13" fill="#000"/>
<rect x="915" y="981" width="1" height="13" fill="#000"/>
<rect x="933" y="981" width="1" height="13" fill="#000"/>
<rect x="951" y="981" width="1" height="13" fill="#000"/>
<rect x="969" y="969" width="1" height="25" fill="#000"/>
<rect x="984" y="981" width="1" height="13" fill="#000"/>
<rect x="1002" y="981" width="1" height="13" fill="#000"/>
<rect x="1020" y="981" width="1" height="13" fill="#000"/>
<rect x="1038" y="981" width="1" height="13" fill="#000"/>
<rect x="1053" y="969" width="1" height="25" fill="#000"/>
<rect x="195" y="993" width="28" height="1" fill="#000"/>
<rect x="195" y="966" width="13" height="1" fill="#000"/>
<rect x="195" y="936" width="13" height="1" fill="#000"/>
<rect x="195" y="906" width="13" height="1" fill="#000"/>
<rect x="195" y="876" width="13" height="1" fill="#000"/>
<rect x="195" y="849" width="28" height="1" fill="#000"/>
<rect x="195" y="819" width="13" height="1" fill="#000"/>
<rect x="195" y="789" width="13" height="1" fill="#000"/>
<rect x="195" y="759" width="13" height="1" fill="#000"/>
<rect x="195" y="732" width="13" height="1" fill="#000"/>
<rect x="195" y="702" width="28" height="1" fill="#000"/>
<rect x="195" y="672" width="13" height="1" fill="#000"/>
<rect x="195" y="642" width="13" height="1" fill="#000"/>
<rect x="195" y="615" width="13" height="1" fill="#000"/>
<rect x="195" y="585" width="13" height="1" fill="#000"/>
<rect x="195" y="555" width="28" height="1" fill="#000"/>
<rect x="195" y="528" width="13" height="1" fill="#000"/>
<rect x="195" y="498" width="13" height="1" fill="#000"/>
<rect x="195" y="468" width="13" height="1" fill="#000"/>
<rect x="195" y="438" width="13" height="1" fill="#000"/>
<rect x="195" y="411" width="28" height="1" fill="#000"/>
<rect x="195" y="381" width="13" height="1" fill="#000"/>
<rect x="195" y="351" width="13" height="1" fill="#000"/>
<rect x="195" y="321" width="13" height="1" fill="#000"/>
<rect x="195" y="294" width="13" height="1" fill="#000"/>
<rect x="195" y="264" width="28" height="1" fill="#000"/>
<rect x="195" y="234" width="13" height="1" fill="#000"/>
<rect x="195" y="204" width="13" height="1" fill="#000"/>
<rect x="195" y="177" width="13" height="1" fill="#000"/>
<rect x="195" y="147" width="13" height="1" fill="#000"/>
</g>
<g font-family="'Liberation Sans', sans-serif" fill="#000" stroke="#000" stroke-width="0.35">
<text x="192.40" y="1030" font-size="36" text-anchor="middle">0</text>
<text x="276.40" y="1030" font-size="36" text-anchor="middle">1</text>
<text x="363.40" y="1030" font-size="36" text-anchor="middle">2</text>
<text x="450.40" y="1030" font-size="36" text-anchor="middle">3</text>
<text x="534.40" y="1030" font-size="36" text-anchor="middle">4</text>
<text x="621.40" y="1030" font-size="36" text-anchor="middle">5</text>
<text x="708.40" y="1030" font-size="36" text-anchor="middle">6</text>
<text x="792.40" y="1030" font-size="36" text-anchor="middle">7</text>
<text x="879.40" y="1030" font-size="36" text-anchor="middle">8</text>
<text x="966.40" y="1030" font-size="36" text-anchor="middle">9</text>
<text x="1033.35" y="1030" font-size="36" textLength="37.3" lengthAdjust="spacingAndGlyphs">10</text>
<text x="187.60" y="1009" font-size="36" text-anchor="end">0</text>
<text x="188.60" y="865" font-size="36" text-anchor="end">10</text>
<text x="188.60" y="718" font-size="36" text-anchor="end">20</text>
<text x="188.60" y="571" font-size="36" text-anchor="end">30</text>
<text x="188.60" y="427" font-size="36" text-anchor="end">40</text>
<text x="188.60" y="280" font-size="36" text-anchor="end">50</text>
<text x="1052.40" y="1068" font-size="33.5" text-anchor="end">x</text>
<text transform="translate(114.10 353.5) rotate(-90)" font-size="36" textLength="226.3" lengthAdjust="spacingAndGlyphs">Events / ( 0.1 )</text>
<text x="215.70" y="63.7" font-size="33.6" textLength="740.1" lengthAdjust="spacingAndGlyphs">Component plotting of pdf=(sig1+sig2)+(bkg1+bkg2)</text>
</g>
<g shape-rendering="crispEdges">
<rect x="1392" y="636" width="1" height="145" fill="#000"/>
<rect x="1389" y="636" width="10" height="1" fill="#000"/>
<rect x="1389" y="780" width="10" height="1" fill="#000"/>
<rect x="1401" y="753" width="1" height="118" fill="#000"/>
<rect x="1395" y="753" width="13" height="1" fill="#000"/>
<rect x="1395" y="870" width="13" height="1" fill="#000"/>
<rect x="1410" y="768" width="1" height="115" fill="#000"/>
<rect x="1404" y="768" width="13" height="1" fill="#000"/>
<rect x="1404" y="882" width="13" height="1" fill="#000"/>
<rect x="1419" y="786" width="1" height="109" fill="#000"/>
<rect x="1413" y="786" width="13" height="1" fill="#000"/>
<rect x="1413" y="894" width="13" height="1" fill="#000"/>
<rect x="1428" y="837" width="1" height="94" fill="#000"/>
<rect x="1422" y="837" width="13" height="1" fill="#000"/>
<rect x="1422" y="930" width="13" height="1" fill="#000"/>
<rect x="1437" y="819" width="1" height="100" fill="#000"/>
<rect x="1431" y="819" width="13" height="1" fill="#000"/>
<rect x="1431" y="918" width="13" height="1" fill="#000"/>
<rect x="1443" y="768" width="1" height="115" fill="#000"/>
<rect x="1437" y="768" width="13" height="1" fill="#000"/>
<rect x="1437" y="882" width="13" height="1" fill="#000"/>
<rect x="1452" y="837" width="1" height="94" fill="#000"/>
<rect x="1446" y="837" width="13" height="1" fill="#000"/>
<rect x="1446" y="930" width="13" height="1" fill="#000"/>
<rect x="1461" y="888" width="1" height="76" fill="#000"/>
<rect x="1455" y="888" width="13" height="1" fill="#000"/>
<rect x="1455" y="963" width="13" height="1" fill="#000"/>
<rect x="1470" y="855" width="1" height="88" fill="#000"/>
<rect x="1464" y="855" width="13" height="1" fill="#000"/>
<rect x="1464" y="942" width="13" height="1" fill="#000"/>
<rect x="1479" y="837" width="1" height="94" fill="#000"/>
<rect x="1473" y="837" width="13" height="1" fill="#000"/>
<rect x="1473" y="930" width="13" height="1" fill="#000"/>
<rect x="1488" y="855" width="1" height="88" fill="#000"/>
<rect x="1482" y="855" width="13" height="1" fill="#000"/>
<rect x="1482" y="942" width="13" height="1" fill="#000"/>
<rect x="1497" y="801" width="1" height="106" fill="#000"/>
<rect x="1491" y="801" width="13" height="1" fill="#000"/>
<rect x="1491" y="906" width="13" height="1" fill="#000"/>
<rect x="1503" y="888" width="1" height="76" fill="#000"/>
<rect x="1497" y="888" width="13" height="1" fill="#000"/>
<rect x="1497" y="963" width="13" height="1" fill="#000"/>
<rect x="1512" y="837" width="1" height="94" fill="#000"/>
<rect x="1506" y="837" width="13" height="1" fill="#000"/>
<rect x="1506" y="930" width="13" height="1" fill="#000"/>
<rect x="1521" y="855" width="1" height="88" fill="#000"/>
<rect x="1515" y="855" width="13" height="1" fill="#000"/>
<rect x="1515" y="942" width="13" height="1" fill="#000"/>
<rect x="1530" y="888" width="1" height="76" fill="#000"/>
<rect x="1524" y="888" width="13" height="1" fill="#000"/>
<rect x="1524" y="963" width="13" height="1" fill="#000"/>
<rect x="1539" y="909" width="1" height="67" fill="#000"/>
<rect x="1533" y="909" width="13" height="1" fill="#000"/>
<rect x="1533" y="975" width="13" height="1" fill="#000"/>
<rect x="1548" y="855" width="1" height="88" fill="#000"/>
<rect x="1542" y="855" width="13" height="1" fill="#000"/>
<rect x="1542" y="942" width="13" height="1" fill="#000"/>
<rect x="1557" y="819" width="1" height="100" fill="#000"/>
<rect x="1551" y="819" width="13" height="1" fill="#000"/>
<rect x="1551" y="918" width="13" height="1" fill="#000"/>
<rect x="1566" y="945" width="1" height="46" fill="#000"/>
<rect x="1560" y="945" width="13" height="1" fill="#000"/>
<rect x="1560" y="990" width="13" height="1" fill="#000"/>
<rect x="1572" y="855" width="1" height="88" fill="#000"/>
<rect x="1566" y="855" width="13" height="1" fill="#000"/>
<rect x="1566" y="942" width="13" height="1" fill="#000"/>
<rect x="1581" y="927" width="1" height="58" fill="#000"/>
<rect x="1575" y="927" width="13" height="1" fill="#000"/>
<rect x="1575" y="984" width="13" height="1" fill="#000"/>
<rect x="1590" y="873" width="1" height="79" fill="#000"/>
<rect x="1584" y="873" width="13" height="1" fill="#000"/>
<rect x="1584" y="951" width="13" height="1" fill="#000"/>
<rect x="1599" y="909" width="1" height="67" fill="#000"/>
<rect x="1593" y="909" width="13" height="1" fill="#000"/>
<rect x="1593" y="975" width="13" height="1" fill="#000"/>
<rect x="1608" y="873" width="1" height="79" fill="#000"/>
<rect x="1602" y="873" width="13" height="1" fill="#000"/>
<rect x="1602" y="951" width="13" height="1" fill="#000"/>
<rect x="1617" y="888" width="1" height="76" fill="#000"/>
<rect x="1611" y="888" width="13" height="1" fill="#000"/>
<rect x="1611" y="963" width="13" height="1" fill="#000"/>
<rect x="1626" y="909" width="1" height="67" fill="#000"/>
<rect x="1620" y="909" width="13" height="1" fill="#000"/>
<rect x="1620" y="975" width="13" height="1" fill="#000"/>
<rect x="1632" y="945" width="1" height="46" fill="#000"/>
<rect x="1626" y="945" width="13" height="1" fill="#000"/>
<rect x="1626" y="990" width="13" height="1" fill="#000"/>
<rect x="1641" y="927" width="1" height="58" fill="#000"/>
<rect x="1635" y="927" width="13" height="1" fill="#000"/>
<rect x="1635" y="984" width="13" height="1" fill="#000"/>
<rect x="1650" y="873" width="1" height="79" fill="#000"/>
<rect x="1644" y="873" width="13" height="1" fill="#000"/>
<rect x="1644" y="951" width="13" height="1" fill="#000"/>
<rect x="1659" y="909" width="1" height="67" fill="#000"/>
<rect x="1653" y="909" width="13" height="1" fill="#000"/>
<rect x="1653" y="975" width="13" height="1" fill="#000"/>
<rect x="1668" y="927" width="1" height="58" fill="#000"/>
<rect x="1662" y="927" width="13" height="1" fill="#000"/>
<rect x="1662" y="984" width="13" height="1" fill="#000"/>
<rect x="1677" y="927" width="1" height="58" fill="#000"/>
<rect x="1671" y="927" width="13" height="1" fill="#000"/>
<rect x="1671" y="984" width="13" height="1" fill="#000"/>
<rect x="1686" y="888" width="1" height="76" fill="#000"/>
<rect x="1680" y="888" width="13" height="1" fill="#000"/>
<rect x="1680" y="963" width="13" height="1" fill="#000"/>
<rect x="1695" y="873" width="1" height="79" fill="#000"/>
<rect x="1689" y="873" width="13" height="1" fill="#000"/>
<rect x="1689" y="951" width="13" height="1" fill="#000"/>
<rect x="1701" y="909" width="1" height="67" fill="#000"/>
<rect x="1695" y="909" width="13" height="1" fill="#000"/>
<rect x="1695" y="975" width="13" height="1" fill="#000"/>
<rect x="1710" y="837" width="1" height="94" fill="#000"/>
<rect x="1704" y="837" width="13" height="1" fill="#000"/>
<rect x="1704" y="930" width="13" height="1" fill="#000"/>
<rect x="1719" y="888" width="1" height="76" fill="#000"/>
<rect x="1713" y="888" width="13" height="1" fill="#000"/>
<rect x="1713" y="963" width="13" height="1" fill="#000"/>
<rect x="1728" y="735" width="1" height="121" fill="#000"/>
<rect x="1722" y="735" width="13" height="1" fill="#000"/>
<rect x="1722" y="855" width="13" height="1" fill="#000"/>
<rect x="1737" y="702" width="1" height="130" fill="#000"/>
<rect x="1731" y="702" width="13" height="1" fill="#000"/>
<rect x="1731" y="831" width="13" height="1" fill="#000"/>
<rect x="1746" y="687" width="1" height="133" fill="#000"/>
<rect x="1740" y="687" width="13" height="1" fill="#000"/>
<rect x="1740" y="819" width="13" height="1" fill="#000"/>
<rect x="1755" y="621" width="1" height="148" fill="#000"/>
<rect x="1749" y="621" width="13" height="1" fill="#000"/>
<rect x="1749" y="768" width="13" height="1" fill="#000"/>
<rect x="1761" y="654" width="1" height="139" fill="#000"/>
<rect x="1755" y="654" width="13" height="1" fill="#000"/>
<rect x="1755" y="792" width="13" height="1" fill="#000"/>
<rect x="1770" y="636" width="1" height="145" fill="#000"/>
<rect x="1764" y="636" width="13" height="1" fill="#000"/>
<rect x="1764" y="780" width="13" height="1" fill="#000"/>
<rect x="1779" y="366" width="1" height="190" fill="#000"/>
<rect x="1773" y="366" width="13" height="1" fill="#000"/>
<rect x="1773" y="555" width="13" height="1" fill="#000"/>
<rect x="1788" y="459" width="1" height="178" fill="#000"/>
<rect x="1782" y="459" width="13" height="1" fill="#000"/>
<rect x="1782" y="636" width="13" height="1" fill="#000"/>
<rect x="1797" y="396" width="1" height="187" fill="#000"/>
<rect x="1791" y="396" width="13" height="1" fill="#000"/>
<rect x="1791" y="582" width="13" height="1" fill="#000"/>
<rect x="1806" y="429" width="1" height="181" fill="#000"/>
<rect x="1800" y="429" width="13" height="1" fill="#000"/>
<rect x="1800" y="609" width="13" height="1" fill="#000"/>
<rect x="1815" y="162" width="1" height="220" fill="#000"/>
<rect x="1809" y="162" width="13" height="1" fill="#000"/>
<rect x="1809" y="381" width="13" height="1" fill="#000"/>
<rect x="1821" y="285" width="1" height="205" fill="#000"/>
<rect x="1815" y="285" width="13" height="1" fill="#000"/>
<rect x="1815" y="489" width="13" height="1" fill="#000"/>
<rect x="1830" y="459" width="1" height="178" fill="#000"/>
<rect x="1824" y="459" width="13" height="1" fill="#000"/>
<rect x="1824" y="636" width="13" height="1" fill="#000"/>
<rect x="1839" y="270" width="1" height="205" fill="#000"/>
<rect x="1833" y="270" width="13" height="1" fill="#000"/>
<rect x="1833" y="474" width="13" height="1" fill="#000"/>
<rect x="1848" y="444" width="1" height="178" fill="#000"/>
<rect x="1842" y="444" width="13" height="1" fill="#000"/>
<rect x="1842" y="621" width="13" height="1" fill="#000"/>
<rect x="1857" y="459" width="1" height="178" fill="#000"/>
<rect x="1851" y="459" width="13" height="1" fill="#000"/>
<rect x="1851" y="636" width="13" height="1" fill="#000"/>
<rect x="1866" y="492" width="1" height="172" fill="#000"/>
<rect x="1860" y="492" width="13" height="1" fill="#000"/>
<rect x="1860" y="663" width="13" height="1" fill="#000"/>
<rect x="1875" y="588" width="1" height="154" fill="#000"/>
<rect x="1869" y="588" width="13" height="1" fill="#000"/>
<rect x="1869" y="741" width="13" height="1" fill="#000"/>
<rect x="1884" y="636" width="1" height="145" fill="#000"/>
<rect x="1878" y="636" width="13" height="1" fill="#000"/>
<rect x="1878" y="780" width="13" height="1" fill="#000"/>
<rect x="1890" y="768" width="1" height="115" fill="#000"/>
<rect x="1884" y="768" width="13" height="1" fill="#000"/>
<rect x="1884" y="882" width="13" height="1" fill="#000"/>
<rect x="1899" y="786" width="1" height="109" fill="#000"/>
<rect x="1893" y="786" width="13" height="1" fill="#000"/>
<rect x="1893" y="894" width="13" height="1" fill="#000"/>
<rect x="1908" y="702" width="1" height="130" fill="#000"/>
<rect x="1902" y="702" width="13" height="1" fill="#000"/>
<rect x="1902" y="831" width="13" height="1" fill="#000"/>
<rect x="1917" y="735" width="1" height="121" fill="#000"/>
<rect x="1911" y="735" width="13" height="1" fill="#000"/>
<rect x="1911" y="855" width="13" height="1" fill="#000"/>
<rect x="1926" y="801" width="1" height="106" fill="#000"/>
<rect x="1920" y="801" width="13" height="1" fill="#000"/>
<rect x="1920" y="906" width="13" height="1" fill="#000"/>
<rect x="1935" y="855" width="1" height="88" fill="#000"/>
<rect x="1929" y="855" width="13" height="1" fill="#000"/>
<rect x="1929" y="942" width="13" height="1" fill="#000"/>
<rect x="1944" y="819" width="1" height="100" fill="#000"/>
<rect x="1938" y="819" width="13" height="1" fill="#000"/>
<rect x="1938" y="918" width="13" height="1" fill="#000"/>
<rect x="1950" y="888" width="1" height="76" fill="#000"/>
<rect x="1944" y="888" width="13" height="1" fill="#000"/>
<rect x="1944" y="963" width="13" height="1" fill="#000"/>
<rect x="1959" y="819" width="1" height="100" fill="#000"/>
<rect x="1953" y="819" width="13" height="1" fill="#000"/>
<rect x="1953" y="918" width="13" height="1" fill="#000"/>
<rect x="1968" y="786" width="1" height="109" fill="#000"/>
<rect x="1962" y="786" width="13" height="1" fill="#000"/>
<rect x="1962" y="894" width="13" height="1" fill="#000"/>
<rect x="1977" y="837" width="1" height="94" fill="#000"/>
<rect x="1971" y="837" width="13" height="1" fill="#000"/>
<rect x="1971" y="930" width="13" height="1" fill="#000"/>
<rect x="1986" y="888" width="1" height="76" fill="#000"/>
<rect x="1980" y="888" width="13" height="1" fill="#000"/>
<rect x="1980" y="963" width="13" height="1" fill="#000"/>
<rect x="1995" y="945" width="1" height="46" fill="#000"/>
<rect x="1989" y="945" width="13" height="1" fill="#000"/>
<rect x="1989" y="990" width="13" height="1" fill="#000"/>
<rect x="2004" y="855" width="1" height="88" fill="#000"/>
<rect x="1998" y="855" width="13" height="1" fill="#000"/>
<rect x="1998" y="942" width="13" height="1" fill="#000"/>
<rect x="2013" y="909" width="1" height="67" fill="#000"/>
<rect x="2007" y="909" width="13" height="1" fill="#000"/>
<rect x="2007" y="975" width="13" height="1" fill="#000"/>
<rect x="2019" y="888" width="1" height="76" fill="#000"/>
<rect x="2013" y="888" width="13" height="1" fill="#000"/>
<rect x="2013" y="963" width="13" height="1" fill="#000"/>
<rect x="2028" y="909" width="1" height="67" fill="#000"/>
<rect x="2022" y="909" width="13" height="1" fill="#000"/>
<rect x="2022" y="975" width="13" height="1" fill="#000"/>
<rect x="2037" y="945" width="1" height="46" fill="#000"/>
<rect x="2031" y="945" width="13" height="1" fill="#000"/>
<rect x="2031" y="990" width="13" height="1" fill="#000"/>
<rect x="2046" y="819" width="1" height="100" fill="#000"/>
<rect x="2040" y="819" width="13" height="1" fill="#000"/>
<rect x="2040" y="918" width="13" height="1" fill="#000"/>
<rect x="2055" y="927" width="1" height="58" fill="#000"/>
<rect x="2049" y="927" width="13" height="1" fill="#000"/>
<rect x="2049" y="984" width="13" height="1" fill="#000"/>
<rect x="2064" y="873" width="1" height="79" fill="#000"/>
<rect x="2058" y="873" width="13" height="1" fill="#000"/>
<rect x="2058" y="951" width="13" height="1" fill="#000"/>
<rect x="2073" y="909" width="1" height="67" fill="#000"/>
<rect x="2067" y="909" width="13" height="1" fill="#000"/>
<rect x="2067" y="975" width="13" height="1" fill="#000"/>
<rect x="2079" y="888" width="1" height="76" fill="#000"/>
<rect x="2073" y="888" width="13" height="1" fill="#000"/>
<rect x="2073" y="963" width="13" height="1" fill="#000"/>
<rect x="2088" y="837" width="1" height="94" fill="#000"/>
<rect x="2082" y="837" width="13" height="1" fill="#000"/>
<rect x="2082" y="930" width="13" height="1" fill="#000"/>
<rect x="2097" y="888" width="1" height="76" fill="#000"/>
<rect x="2091" y="888" width="13" height="1" fill="#000"/>
<rect x="2091" y="963" width="13" height="1" fill="#000"/>
<rect x="2106" y="855" width="1" height="88" fill="#000"/>
<rect x="2100" y="855" width="13" height="1" fill="#000"/>
<rect x="2100" y="942" width="13" height="1" fill="#000"/>
<rect x="2115" y="819" width="1" height="100" fill="#000"/>
<rect x="2109" y="819" width="13" height="1" fill="#000"/>
<rect x="2109" y="918" width="13" height="1" fill="#000"/>
<rect x="2124" y="909" width="1" height="67" fill="#000"/>
<rect x="2118" y="909" width="13" height="1" fill="#000"/>
<rect x="2118" y="975" width="13" height="1" fill="#000"/>
<rect x="2133" y="837" width="1" height="94" fill="#000"/>
<rect x="2127" y="837" width="13" height="1" fill="#000"/>
<rect x="2127" y="930" width="13" height="1" fill="#000"/>
<rect x="2142" y="909" width="1" height="67" fill="#000"/>
<rect x="2136" y="909" width="13" height="1" fill="#000"/>
<rect x="2136" y="975" width="13" height="1" fill="#000"/>
<rect x="2148" y="888" width="1" height="76" fill="#000"/>
<rect x="2142" y="888" width="13" height="1" fill="#000"/>
<rect x="2142" y="963" width="13" height="1" fill="#000"/>
<rect x="2157" y="888" width="1" height="76" fill="#000"/>
<rect x="2151" y="888" width="13" height="1" fill="#000"/>
<rect x="2151" y="963" width="13" height="1" fill="#000"/>
<rect x="2166" y="837" width="1" height="94" fill="#000"/>
<rect x="2160" y="837" width="13" height="1" fill="#000"/>
<rect x="2160" y="930" width="13" height="1" fill="#000"/>
<rect x="2175" y="855" width="1" height="88" fill="#000"/>
<rect x="2169" y="855" width="13" height="1" fill="#000"/>
<rect x="2169" y="942" width="13" height="1" fill="#000"/>
<rect x="2184" y="855" width="1" height="88" fill="#000"/>
<rect x="2178" y="855" width="13" height="1" fill="#000"/>
<rect x="2178" y="942" width="13" height="1" fill="#000"/>
<rect x="2193" y="873" width="1" height="79" fill="#000"/>
<rect x="2187" y="873" width="13" height="1" fill="#000"/>
<rect x="2187" y="951" width="13" height="1" fill="#000"/>
<rect x="2202" y="888" width="1" height="76" fill="#000"/>
<rect x="2196" y="888" width="13" height="1" fill="#000"/>
<rect x="2196" y="963" width="13" height="1" fill="#000"/>
<rect x="2208" y="837" width="1" height="94" fill="#000"/>
<rect x="2202" y="837" width="13" height="1" fill="#000"/>
<rect x="2202" y="930" width="13" height="1" fill="#000"/>
<rect x="2217" y="837" width="1" height="94" fill="#000"/>
<rect x="2211" y="837" width="13" height="1" fill="#000"/>
<rect x="2211" y="930" width="13" height="1" fill="#000"/>
<rect x="2226" y="837" width="1" height="94" fill="#000"/>
<rect x="2220" y="837" width="13" height="1" fill="#000"/>
<rect x="2220" y="930" width="13" height="1" fill="#000"/>
<rect x="2235" y="855" width="1" height="88" fill="#000"/>
<rect x="2229" y="855" width="13" height="1" fill="#000"/>
<rect x="2229" y="942" width="13" height="1" fill="#000"/>
<rect x="2244" y="837" width="1" height="94" fill="#000"/>
<rect x="2238" y="837" width="10" height="1" fill="#000"/>
<rect x="2238" y="930" width="10" height="1" fill="#000"/>
</g>
<g fill="#000">
<circle cx="1392.5" cy="717.5" r="12.6"/>
<circle cx="1401.5" cy="819.5" r="12.6"/>
<circle cx="1410.5" cy="834.5" r="12.6"/>
<circle cx="1419.5" cy="849.5" r="12.6"/>
<circle cx="1428.5" cy="891.5" r="12.6"/>
<circle cx="1437.5" cy="876.5" r="12.6"/>
<circle cx="1443.5" cy="834.5" r="12.6"/>
<circle cx="1452.5" cy="891.5" r="12.6"/>
<circle cx="1461.5" cy="936.5" r="12.6"/>
<circle cx="1470.5" cy="906.5" r="12.6"/>
<circle cx="1479.5" cy="891.5" r="12.6"/>
<circle cx="1488.5" cy="906.5" r="12.6"/>
<circle cx="1497.5" cy="864.5" r="12.6"/>
<circle cx="1503.5" cy="936.5" r="12.6"/>
<circle cx="1512.5" cy="891.5" r="12.6"/>
<circle cx="1521.5" cy="906.5" r="12.6"/>
<circle cx="1530.5" cy="936.5" r="12.6"/>
<circle cx="1539.5" cy="951.5" r="12.6"/>
<circle cx="1548.5" cy="906.5" r="12.6"/>
<circle cx="1557.5" cy="876.5" r="12.6"/>
<circle cx="1566.5" cy="978.5" r="12.6"/>
<circle cx="1572.5" cy="906.5" r="12.6"/>
<circle cx="1581.5" cy="966.5" r="12.6"/>
<circle cx="1590.5" cy="921.5" r="12.6"/>
<circle cx="1599.5" cy="951.5" r="12.6"/>
<circle cx="1608.5" cy="921.5" r="12.6"/>
<circle cx="1617.5" cy="936.5" r="12.6"/>
<circle cx="1626.5" cy="951.5" r="12.6"/>
<circle cx="1632.5" cy="978.5" r="12.6"/>
<circle cx="1641.5" cy="966.5" r="12.6"/>
<circle cx="1650.5" cy="921.5" r="12.6"/>
<circle cx="1659.5" cy="951.5" r="12.6"/>
<circle cx="1668.5" cy="966.5" r="12.6"/>
<circle cx="1677.5" cy="966.5" r="12.6"/>
<circle cx="1686.5" cy="936.5" r="12.6"/>
<circle cx="1695.5" cy="921.5" r="12.6"/>
<circle cx="1701.5" cy="951.5" r="12.6"/>
<circle cx="1710.5" cy="891.5" r="12.6"/>
<circle cx="1719.5" cy="936.5" r="12.6"/>
<circle cx="1728.5" cy="804.5" r="12.6"/>
<circle cx="1737.5" cy="774.5" r="12.6"/>
<circle cx="1746.5" cy="759.5" r="12.6"/>
<circle cx="1755.5" cy="702.5" r="12.6"/>
<circle cx="1761.5" cy="732.5" r="12.6"/>
<circle cx="1770.5" cy="717.5" r="12.6"/>
<circle cx="1779.5" cy="468.5" r="12.6"/>
<circle cx="1788.5" cy="555.5" r="12.6"/>
<circle cx="1797.5" cy="498.5" r="12.6"/>
<circle cx="1806.5" cy="528.5" r="12.6"/>
<circle cx="1815.5" cy="279.5" r="12.6"/>
<circle cx="1821.5" cy="396.5" r="12.6"/>
<circle cx="1830.5" cy="555.5" r="12.6"/>
<circle cx="1839.5" cy="381.5" r="12.6"/>
<circle cx="1848.5" cy="540.5" r="12.6"/>
<circle cx="1857.5" cy="555.5" r="12.6"/>
<circle cx="1866.5" cy="585.5" r="12.6"/>
<circle cx="1875.5" cy="672.5" r="12.6"/>
<circle cx="1884.5" cy="717.5" r="12.6"/>
<circle cx="1890.5" cy="834.5" r="12.6"/>
<circle cx="1899.5" cy="849.5" r="12.6"/>
<circle cx="1908.5" cy="774.5" r="12.6"/>
<circle cx="1917.5" cy="804.5" r="12.6"/>
<circle cx="1926.5" cy="864.5" r="12.6"/>
<circle cx="1935.5" cy="906.5" r="12.6"/>
<circle cx="1944.5" cy="876.5" r="12.6"/>
<circle cx="1950.5" cy="936.5" r="12.6"/>
<circle cx="1959.5" cy="876.5" r="12.6"/>
<circle cx="1968.5" cy="849.5" r="12.6"/>
<circle cx="1977.5" cy="891.5" r="12.6"/>
<circle cx="1986.5" cy="936.5" r="12.6"/>
<circle cx="1995.5" cy="978.5" r="12.6"/>
<circle cx="2004.5" cy="906.5" r="12.6"/>
<circle cx="2013.5" cy="951.5" r="12.6"/>
<circle cx="2019.5" cy="936.5" r="12.6"/>
<circle cx="2028.5" cy="951.5" r="12.6"/>
<circle cx="2037.5" cy="978.5" r="12.6"/>
<circle cx="2046.5" cy="876.5" r="12.6"/>
<circle cx="2055.5" cy="966.5" r="12.6"/>
<circle cx="2064.5" cy="921.5" r="12.6"/>
<circle cx="2073.5" cy="951.5" r="12.6"/>
<circle cx="2079.5" cy="936.5" r="12.6"/>
<circle cx="2088.5" cy="891.5" r="12.6"/>
<circle cx="2097.5" cy="936.5" r="12.6"/>
<circle cx="2106.5" cy="906.5" r="12.6"/>
<circle cx="2115.5" cy="876.5" r="12.6"/>
<circle cx="2124.5" cy="951.5" r="12.6"/>
<circle cx="2133.5" cy="891.5" r="12.6"/>
<circle cx="2142.5" cy="951.5" r="12.6"/>
<circle cx="2148.5" cy="936.5" r="12.6"/>
<circle cx="2157.5" cy="936.5" r="12.6"/>
<circle cx="2166.5" cy="891.5" r="12.6"/>
<circle cx="2175.5" cy="906.5" r="12.6"/>
<circle cx="2184.5" cy="906.5" r="12.6"/>
<circle cx="2193.5" cy="921.5" r="12.6"/>
<circle cx="2202.5" cy="936.5" r="12.6"/>
<circle cx="2208.5" cy="891.5" r="12.6"/>
<circle cx="2217.5" cy="891.5" r="12.6"/>
<circle cx="2226.5" cy="891.5" r="12.6"/>
<circle cx="2235.5" cy="906.5" r="12.6"/>
<circle cx="2244.5" cy="891.5" r="12.6"/>
</g>
<g fill="none" stroke-width="3" shape-rendering="crispEdges" clip-path="url(#clip1)">
<path d="M1389.5 804.5 L1398.5 819.5 L1407.5 831.5 L1413.5 843.5 L1422.5 855.5 L1431.5 864.5 L1440.5 873.5 L1449.5 879.5 L1458.5 888.5 L1467.5 894.5 L1473.5 900.5 L1482.5 903.5 L1491.5 909.5 L1500.5 912.5 L1509.5 918.5 L1518.5 921.5 L1527.5 924.5 L1533.5 927.5 L1542.5 930.5 L1551.5 930.5 L1560.5 933.5 L1569.5 936.5 L1578.5 936.5 L1587.5 936.5 L1596.5 939.5 L1602.5 939.5 L1611.5 939.5 L1620.5 939.5 L1629.5 939.5 L1638.5 939.5 L1647.5 936.5 L1656.5 936.5 L1662.5 933.5 L1671.5 930.5 L1680.5 927.5 L1689.5 924.5 L1698.5 915.5 L1707.5 906.5 L1710.5 900.5 L1716.5 891.5 L1719.5 882.5 L1725.5 873.5 L1728.5 861.5 L1731.5 849.5 L1737.5 834.5 L1740.5 816.5 L1746.5 795.5 L1749.5 774.5 L1755.5 750.5 L1758.5 726.5 L1761.5 699.5 L1767.5 669.5 L1776.5 612.5 L1785.5 552.5 L1788.5 525.5 L1791.5 498.5 L1797.5 477.5 L1800.5 456.5 L1806.5 441.5 L1806.5 435.5 L1809.5 429.5 L1812.5 423.5 L1815.5 420.5 L1818.5 417.5 L1821.5 420.5 L1824.5 423.5 L1827.5 426.5 L1830.5 432.5 L1830.5 438.5 L1836.5 453.5 L1839.5 474.5 L1845.5 495.5 L1848.5 522.5 L1854.5 549.5 L1860.5 606.5 L1869.5 663.5 L1875.5 690.5 L1878.5 717.5 L1884.5 744.5 L1887.5 765.5 L1890.5 786.5 L1896.5 807.5 L1899.5 822.5 L1905.5 837.5 L1908.5 852.5 L1914.5 861.5 L1917.5 873.5 L1920.5 879.5 L1926.5 888.5 L1929.5 894.5 L1938.5 903.5 L1947.5 909.5 L1956.5 912.5 L1965.5 915.5 L1974.5 918.5 L1980.5 918.5 L1989.5 918.5 L1998.5 921.5 L2007.5 921.5 L2016.5 921.5 L2025.5 921.5 L2034.5 918.5 L2043.5 918.5 L2049.5 918.5 L2058.5 918.5 L2067.5 915.5 L2076.5 915.5 L2085.5 915.5 L2094.5 912.5 L2103.5 912.5 L2109.5 912.5 L2118.5 909.5 L2127.5 909.5 L2136.5 906.5 L2145.5 906.5 L2154.5 903.5 L2163.5 903.5 L2172.5 900.5 L2178.5 900.5 L2187.5 897.5 L2196.5 897.5 L2205.5 894.5 L2214.5 894.5 L2223.5 891.5 L2232.5 891.5 L2238.5 888.5 L2247.5 888.5" stroke="#0000ff" stroke-linejoin="round" stroke-linecap="square"/>
<path d="M1389.5 804.5 L1392.5 810.5 L1398.5 819.5 L1401.5 825.5 L1407.5 831.5 L1410.5 837.5 L1413.5 843.5 L1422.5 855.5 L1431.5 864.5 L1440.5 873.5 L1449.5 879.5 L1458.5 888.5 L1467.5 894.5 L1473.5 900.5 L1482.5 903.5 L1491.5 909.5 L1500.5 915.5 L1509.5 918.5 L1518.5 921.5 L1527.5 924.5 L1533.5 927.5 L1542.5 930.5 L1551.5 933.5 L1560.5 933.5 L1569.5 936.5 L1578.5 936.5 L1587.5 939.5 L1596.5 939.5 L1602.5 942.5 L1611.5 942.5 L1620.5 942.5 L1629.5 945.5 L1638.5 945.5 L1647.5 945.5 L1656.5 945.5 L1662.5 945.5 L1671.5 945.5 L1680.5 945.5 L1689.5 948.5 L1698.5 948.5 L1707.5 948.5 L1716.5 948.5 L1725.5 948.5 L1731.5 945.5 L1740.5 945.5 L1749.5 945.5 L1758.5 945.5 L1767.5 945.5 L1776.5 945.5 L1785.5 945.5 L1791.5 945.5 L1800.5 945.5 L1809.5 942.5 L1818.5 942.5 L1827.5 942.5 L1836.5 942.5 L1845.5 942.5 L1854.5 942.5 L1860.5 939.5 L1869.5 939.5 L1878.5 939.5 L1887.5 939.5 L1896.5 936.5 L1905.5 936.5 L1914.5 936.5 L1920.5 936.5 L1929.5 933.5 L1938.5 933.5 L1947.5 933.5 L1956.5 930.5 L1965.5 930.5 L1974.5 930.5 L1980.5 927.5 L1989.5 927.5 L1998.5 927.5 L2007.5 924.5 L2016.5 924.5 L2025.5 924.5 L2034.5 921.5 L2043.5 921.5 L2049.5 921.5 L2058.5 918.5 L2067.5 918.5 L2076.5 915.5 L2085.5 915.5 L2094.5 915.5 L2103.5 912.5 L2109.5 912.5 L2118.5 909.5 L2127.5 909.5 L2136.5 906.5 L2145.5 906.5 L2154.5 903.5 L2163.5 903.5 L2172.5 900.5 L2178.5 900.5 L2187.5 897.5 L2196.5 897.5 L2205.5 894.5 L2214.5 894.5 L2223.5 891.5 L2232.5 891.5 L2238.5 888.5 L2247.5 888.5" stroke="#00ffff" stroke-linejoin="round" stroke-linecap="square"/>
<path d="M1815 884h1v3h-1zM1818 884h1v3h-1zM1821 884h1v3h-1zM1824 884h1v3h-1zM1827 884h1v3h-1zM1830 884h1v3h-1zM1833 884h1v3h-1zM1836 884h1v3h-1zM1839 884h1v3h-1zM1842 884h1v3h-1zM1845 884h1v3h-1zM1848 885h3v1h-3zM1848 886h4v2h-4zM1800 887h1v3h-1zM1803 887h1v3h-1zM1806 887h1v3h-1zM1809 887h1v3h-1zM1854 887h1v3h-1zM1857 887h1v3h-1zM1860 887h1v3h-1zM2238 887h1v3h-1zM2241 887h1v3h-1zM2244 887h1v3h-1zM2247 887h1v1h-1zM1795 888h3v1h-3zM1849 888h3v1h-3zM1863 888h3v1h-3zM2246 888h3v1h-3zM1794 889h4v2h-4zM1863 889h4v2h-4zM2247 889h1v1h-1zM1785 890h1v3h-1zM1788 890h1v3h-1zM1791 890h1v3h-1zM2223 890h1v3h-1zM2226 890h1v3h-1zM2229 890h1v3h-1zM2232 890h1v3h-1zM1780 891h3v1h-3zM1794 891h3v1h-3zM1864 891h3v1h-3zM1872 891h3v1h-3zM2218 891h3v1h-3zM1779 892h4v2h-4zM1872 892h4v2h-4zM2217 892h4v2h-4zM2205 893h1v3h-1zM2208 893h1v3h-1zM2211 893h1v3h-1zM2214 893h1v3h-1zM1773 894h4v3h-4zM1779 894h3v1h-3zM1873 894h3v1h-3zM1881 894h3v1h-3zM2200 894h3v1h-3zM2217 894h3v1h-3zM1881 895h4v2h-4zM2199 895h4v2h-4zM2187 896h1v3h-1zM2190 896h1v3h-1zM2193 896h1v3h-1zM2196 896h1v3h-1zM1882 897h3v1h-3zM1890 897h3v1h-3zM2182 897h3v1h-3zM2199 897h3v1h-3zM1890 898h4v2h-4zM2181 898h4v2h-4zM1896 899h1v3h-1zM1899 899h1v3h-1zM1902 899h1v3h-1zM1905 899h1v3h-1zM2172 899h1v3h-1zM2175 899h1v3h-1zM2178 899h1v3h-1zM1762 900h3v1h-3zM1891 900h3v1h-3zM1908 900h3v1h-3zM2167 900h3v1h-3zM2181 900h3v1h-3zM1761 901h4v2h-4zM1908 901h4v2h-4zM2166 901h4v2h-4zM2154 902h1v3h-1zM2157 902h1v3h-1zM2160 902h1v3h-1zM2163 902h1v3h-1zM1753 903h3v1h-3zM1761 903h3v1h-3zM1909 903h3v1h-3zM2149 903h3v1h-3zM2166 903h3v1h-3zM1752 904h4v2h-4zM2148 904h4v2h-4zM2136 905h1v3h-1zM2139 905h1v3h-1zM2142 905h1v3h-1zM2145 905h1v3h-1zM1744 906h3v1h-3zM1752 906h3v1h-3zM1923 906h3v1h-3zM2131 906h3v1h-3zM2148 906h3v1h-3zM1743 907h4v2h-4zM1923 907h4v2h-4zM2130 907h4v2h-4zM2118 908h1v3h-1zM2121 908h1v3h-1zM2124 908h1v3h-1zM2127 908h1v3h-1zM1737 909h4v3h-4zM1743 909h3v1h-3zM1924 909h3v1h-3zM1932 909h3v1h-3zM2113 909h3v1h-3zM2130 909h3v1h-3zM1932 910h4v2h-4zM2112 910h4v2h-4zM1938 911h1v3h-1zM1941 911h1v3h-1zM1944 911h1v3h-1zM1947 911h1v3h-1zM2094 911h1v3h-1zM2097 911h1v3h-1zM2100 911h1v3h-1zM2103 911h1v3h-1zM2106 911h1v3h-1zM2109 911h1v3h-1zM1933 912h3v1h-3zM1950 912h3v1h-3zM2089 912h3v1h-3zM2112 912h3v1h-3zM1950 913h4v2h-4zM2088 913h4v2h-4zM2067 914h1v3h-1zM2070 914h1v3h-1zM2073 914h1v3h-1zM2076 914h1v3h-1zM2079 914h1v3h-1zM2082 914h1v3h-1zM2085 914h1v3h-1zM1951 915h3v1h-3zM1959 915h3v1h-3zM2062 915h3v1h-3zM2088 915h3v1h-3zM1959 916h4v2h-4zM2061 916h4v2h-4zM1965 917h1v3h-1zM1968 917h1v3h-1zM1971 917h1v3h-1zM1974 917h1v3h-1zM1977 917h1v3h-1zM1980 917h1v3h-1zM1983 917h1v3h-1zM1986 917h1v3h-1zM1989 917h1v3h-1zM2034 917h1v3h-1zM2037 917h1v3h-1zM2040 917h1v3h-1zM2043 917h1v3h-1zM2046 917h1v3h-1zM2049 917h1v3h-1zM2052 917h1v3h-1zM2055 917h1v3h-1zM2058 917h1v3h-1zM1720 918h3v1h-3zM1960 918h3v1h-3zM1992 918h3v1h-3zM2029 918h3v1h-3zM2061 918h3v1h-3zM1719 919h4v2h-4zM1992 919h4v2h-4zM2028 919h4v2h-4zM1998 920h1v3h-1zM2001 920h1v3h-1zM2004 920h1v3h-1zM2007 920h1v3h-1zM2010 920h1v3h-1zM2013 920h1v3h-1zM2016 920h1v3h-1zM2019 920h1v3h-1zM2022 920h1v3h-1zM2025 920h1v3h-1zM1711 921h3v1h-3zM1719 921h3v1h-3zM1993 921h3v1h-3zM2028 921h3v1h-3zM1710 922h4v2h-4zM1704 924h4v3h-4zM1710 924h3v1h-3zM1693 930h3v1h-3zM1692 931h4v2h-4zM1684 933h3v1h-3zM1692 933h3v1h-3zM1683 934h4v2h-4zM1675 936h3v1h-3zM1683 936h3v1h-3zM1674 937h4v2h-4zM1662 938h1v3h-1zM1665 938h1v3h-1zM1668 938h1v3h-1zM1671 938h1v3h-1zM1674 939h3v1h-3zM1651 942h3v1h-3zM1650 943h4v2h-4zM1638 944h1v3h-1zM1641 944h1v3h-1zM1644 944h1v3h-1zM1647 944h1v3h-1zM1633 945h3v1h-3zM1650 945h3v1h-3zM1632 946h4v2h-4zM1620 947h1v3h-1zM1623 947h1v3h-1zM1626 947h1v3h-1zM1629 947h1v3h-1zM1615 948h3v1h-3zM1632 948h3v1h-3zM1614 949h4v2h-4zM1389 950h1v1h-1zM1392 950h1v3h-1zM1395 950h1v3h-1zM1398 950h1v3h-1zM1401 950h1v3h-1zM1404 950h1v3h-1zM1407 950h1v3h-1zM1410 950h1v3h-1zM1413 950h1v3h-1zM1416 950h1v3h-1zM1419 950h1v3h-1zM1422 950h1v3h-1zM1425 950h1v3h-1zM1428 950h1v3h-1zM1431 950h1v3h-1zM1434 950h1v3h-1zM1437 950h1v3h-1zM1440 950h1v3h-1zM1443 950h1v3h-1zM1446 950h1v3h-1zM1449 950h1v3h-1zM1578 950h1v3h-1zM1581 950h1v3h-1zM1584 950h1v3h-1zM1587 950h1v3h-1zM1590 950h1v3h-1zM1593 950h1v3h-1zM1596 950h1v3h-1zM1599 950h1v3h-1zM1602 950h1v3h-1zM1605 950h1v3h-1zM1608 950h1v3h-1zM1611 950h1v3h-1zM1388 951h3v1h-3zM1452 951h3v1h-3zM1573 951h3v1h-3zM1614 951h3v1h-3zM1389 952h1v1h-1zM1452 952h4v2h-4zM1572 952h4v2h-4zM1458 953h1v3h-1zM1461 953h1v3h-1zM1464 953h1v3h-1zM1467 953h1v3h-1zM1470 953h1v3h-1zM1473 953h1v3h-1zM1476 953h1v3h-1zM1479 953h1v3h-1zM1482 953h1v3h-1zM1485 953h1v3h-1zM1488 953h1v3h-1zM1491 953h1v3h-1zM1494 953h1v3h-1zM1497 953h1v3h-1zM1500 953h1v3h-1zM1503 953h1v3h-1zM1506 953h1v3h-1zM1509 953h1v3h-1zM1512 953h1v3h-1zM1515 953h1v3h-1zM1518 953h1v3h-1zM1521 953h1v3h-1zM1524 953h1v3h-1zM1527 953h1v3h-1zM1530 953h1v3h-1zM1533 953h1v3h-1zM1536 953h1v3h-1zM1539 953h1v3h-1zM1542 953h1v3h-1zM1545 953h1v3h-1zM1548 953h1v3h-1zM1551 953h1v3h-1zM1554 953h1v3h-1zM1557 953h1v3h-1zM1560 953h1v3h-1zM1563 953h1v3h-1zM1566 953h1v3h-1zM1569 953h1v3h-1zM1453 954h3v1h-3zM1572 954h3v1h-3z" fill="#00ffff" stroke="none"/>
<path d="M1815 470h8v1h-8zM1815 471h9v1h-9zM1812 472h12v1h-12zM1811 473h4v1h-4zM1821 473h5v1h-5zM1810 474h5v1h-5zM1823 474h4v2h-4zM1810 475h4v1h-4zM1810 476h3v1h-3zM1824 476h3v1h-3zM1826 479h3v1h-3zM1826 480h4v2h-4zM1806 481h3v1h-3zM1805 482h4v2h-4zM1827 482h3v1h-3zM1829 483h3v3h-3zM1805 484h3v2h-3zM1805 489h3v3h-3zM1829 489h3v3h-3zM1804 492h4v2h-4zM1829 492h4v2h-4zM1804 494h3v1h-3zM1830 494h3v1h-3zM1797 521h3v1h-3zM1837 521h3v1h-3zM1796 522h4v2h-4zM1837 522h4v2h-4zM1796 524h3v1h-3zM1838 524h3v1h-3zM1791 546h3v1h-3zM1843 546h3v1h-3zM1790 547h4v2h-4zM1843 547h4v2h-4zM1790 549h3v1h-3zM1844 549h3v1h-3zM1848 579h3v2h-3zM1848 581h4v2h-4zM1849 583h3v1h-3zM1786 587h3v1h-3zM1785 588h4v2h-4zM1785 590h3v1h-3zM1851 594h3v2h-3zM1851 596h4v2h-4zM1852 598h3v1h-3zM1782 617h3v1h-3zM1781 618h4v2h-4zM1781 620h3v1h-3zM1855 624h3v2h-3zM1855 626h4v2h-4zM1856 628h3v1h-3zM1858 654h3v2h-3zM1858 656h4v2h-4zM1859 658h3v1h-3zM1773 674h3v1h-3zM1861 674h3v1h-3zM1772 675h4v2h-4zM1861 675h4v2h-4zM1772 677h3v1h-3zM1862 677h3v1h-3zM1765 723h3v2h-3zM1869 723h3v2h-3zM1764 725h4v2h-4zM1869 725h4v2h-4zM1764 727h3v1h-3zM1870 727h3v1h-3zM1762 738h3v2h-3zM1872 738h3v2h-3zM1761 740h4v2h-4zM1872 740h4v2h-4zM1761 742h3v1h-3zM1873 742h3v1h-3zM1758 768h3v2h-3zM1876 768h3v2h-3zM1757 770h4v2h-4zM1876 770h4v2h-4zM1757 772h3v1h-3zM1877 772h3v1h-3zM1882 795h3v1h-3zM1882 796h4v2h-4zM1883 798h3v1h-3zM1749 819h3v1h-3zM1748 820h4v2h-4zM1748 822h3v1h-3zM1741 856h3v2h-3zM1893 856h3v2h-3zM1740 858h4v2h-4zM1893 858h4v2h-4zM1740 860h3v1h-3zM1894 860h3v1h-3zM1738 870h3v2h-3zM1896 870h3v2h-3zM1737 872h4v2h-4zM1896 872h4v2h-4zM1737 874h3v1h-3zM1897 874h3v1h-3zM1734 885h3v2h-3zM1900 885h3v2h-3zM1733 887h4v2h-4zM1900 887h4v2h-4zM1733 889h3v1h-3zM1901 889h3v1h-3zM1907 908h3v1h-3zM1907 909h4v2h-4zM1908 911h3v1h-3zM1910 915h3v1h-3zM1910 916h4v2h-4zM1911 918h3v1h-3zM1724 920h3v1h-3zM1723 921h4v2h-4zM1723 923h3v1h-3zM1720 926h3v1h-3zM1719 927h4v2h-4zM1915 927h3v2h-3zM1719 929h3v1h-3zM1915 929h4v2h-4zM1916 931h3v1h-3zM1716 936h3v2h-3zM1918 936h3v2h-3zM1715 938h4v1h-4zM1918 938h4v1h-4zM1714 939h5v1h-5zM1918 939h5v1h-5zM1714 940h4v1h-4zM1919 940h4v1h-4zM1714 941h3v1h-3zM1920 941h3v1h-3zM1711 944h3v1h-3zM1923 944h3v1h-3zM1710 945h4v2h-4zM1923 945h4v2h-4zM1709 947h4v1h-4zM1924 947h4v1h-4zM1708 948h4v2h-4zM1925 948h4v2h-4zM1708 950h3v1h-3zM1926 950h3v1h-3zM1928 953h3v1h-3zM1928 954h4v2h-4zM1703 956h3v1h-3zM1929 956h3v1h-3zM1702 957h4v2h-4zM1933 958h3v1h-3zM1702 959h3v1h-3zM1933 959h4v2h-4zM1698 961h3v1h-3zM1934 961h3v1h-3zM1697 962h4v1h-4zM1937 962h3v1h-3zM1695 963h6v1h-6zM1937 963h4v2h-4zM1694 964h6v1h-6zM1694 965h4v1h-4zM1938 965h3v1h-3zM1694 966h3v1h-3zM1943 966h3v1h-3zM1689 967h3v1h-3zM1943 967h4v1h-4zM1688 968h4v1h-4zM1943 968h6v1h-6zM1686 969h6v1h-6zM1944 969h6v1h-6zM1685 970h6v1h-6zM1946 970h4v1h-4zM1685 971h4v1h-4zM1947 971h3v1h-3zM1685 972h3v1h-3zM1952 972h3v1h-3zM1680 973h3v1h-3zM1952 973h4v1h-4zM1679 974h4v1h-4zM1952 974h7v1h-7zM1677 975h6v1h-6zM1953 975h6v1h-6zM1677 976h5v1h-5zM1955 976h4v1h-4zM1962 976h4v1h-4zM1670 977h4v1h-4zM1677 977h4v1h-4zM1962 977h6v2h-6zM1668 978h6v2h-6zM1964 979h4v1h-4zM1971 979h4v1h-4zM1661 980h4v3h-4zM1668 980h4v1h-4zM1971 980h5v1h-5zM1971 981h6v1h-6zM1656 982h3v1h-3zM1973 982h4v1h-4zM1655 983h4v1h-4zM1974 983h3v1h-3zM1979 983h4v3h-4zM1653 984h6v1h-6zM1653 985h5v1h-5zM1986 985h4v1h-4zM1637 986h4v1h-4zM1644 986h6v3h-6zM1653 986h4v1h-4zM1986 986h6v2h-6zM1995 986h6v3h-6zM1635 987h6v2h-6zM1988 988h4v1h-4zM2004 988h4v1h-4zM1602 989h3v3h-3zM1608 989h6v3h-6zM1617 989h6v3h-6zM1626 989h6v3h-6zM1635 989h4v1h-4zM2004 989h6v2h-6zM2013 989h6v3h-6zM2022 989h6v3h-6zM2031 989h6v3h-6zM1596 991h3v1h-3zM2006 991h4v1h-4zM2040 991h4v1h-4zM1389 992h3v1h-3zM1395 992h6v3h-6zM1404 992h6v3h-6zM1413 992h3v3h-3zM1419 992h6v3h-6zM1428 992h6v3h-6zM1437 992h6v3h-6zM1446 992h6v3h-6zM1455 992h6v3h-6zM1464 992h6v3h-6zM1473 992h3v3h-3zM1479 992h6v3h-6zM1488 992h6v3h-6zM1497 992h6v3h-6zM1506 992h6v3h-6zM1515 992h6v3h-6zM1524 992h6v3h-6zM1533 992h3v3h-3zM1539 992h6v3h-6zM1548 992h6v3h-6zM1557 992h6v3h-6zM1566 992h6v3h-6zM1575 992h6v3h-6zM1584 992h6v3h-6zM1593 992h6v2h-6zM2040 992h6v2h-6zM2049 992h3v3h-3zM2055 992h6v3h-6zM2064 992h6v3h-6zM2073 992h6v3h-6zM2082 992h6v3h-6zM2091 992h6v3h-6zM2100 992h6v3h-6zM2109 992h3v3h-3zM2115 992h6v3h-6zM2124 992h6v3h-6zM2133 992h6v3h-6zM2142 992h6v3h-6zM2151 992h6v3h-6zM2160 992h6v3h-6zM2169 992h6v3h-6zM2178 992h3v3h-3zM2184 992h6v3h-6zM2193 992h6v3h-6zM2202 992h6v3h-6zM2211 992h6v3h-6zM2220 992h6v3h-6zM2229 992h6v3h-6zM2238 992h3v3h-3zM2244 992h3v1h-3zM1388 993h4v1h-4zM2244 993h5v1h-5zM1389 994h3v1h-3zM1593 994h5v1h-5zM2042 994h4v1h-4zM2244 994h3v1h-3z" fill="#00ffff" stroke="none"/>
</g>
<g shape-rendering="crispEdges">
<rect x="1389" y="120" width="859" height="1" fill="#000"/>
<rect x="1389" y="993" width="859" height="1" fill="#000"/>
<rect x="1389" y="120" width="1" height="874" fill="#000"/>
<rect x="2247" y="120" width="1" height="874" fill="#000"/>
<rect x="1389" y="969" width="1" height="25" fill="#000"/>
<rect x="1407" y="981" width="1" height="13" fill="#000"/>
<rect x="1422" y="981" width="1" height="13" fill="#000"/>
<rect x="1440" y="981" width="1" height="13" fill="#000"/>
<rect x="1458" y="981" width="1" height="13" fill="#000"/>
<rect x="1473" y="969" width="1" height="25" fill="#000"/>
<rect x="1491" y="981" width="1" height="13" fill="#000"/>
<rect x="1509" y="981" width="1" height="13" fill="#000"/>
<rect x="1527" y="981" width="1" height="13" fill="#000"/>
<rect x="1542" y="981" width="1" height="13" fill="#000"/>
<rect x="1560" y="969" width="1" height="25" fill="#000"/>
<rect x="1578" y="981" width="1" height="13" fill="#000"/>
<rect x="1596" y="981" width="1" height="13" fill="#000"/>
<rect x="1611" y="981" width="1" height="13" fill="#000"/>
<rect x="1629" y="981" width="1" height="13" fill="#000"/>
<rect x="1647" y="969" width="1" height="25" fill="#000"/>
<rect x="1662" y="981" width="1" height="13" fill="#000"/>
<rect x="1680" y="981" width="1" height="13" fill="#000"/>
<rect x="1698" y="981" width="1" height="13" fill="#000"/>
<rect x="1716" y="981" width="1" height="13" fill="#000"/>
<rect x="1731" y="969" width="1" height="25" fill="#000"/>
<rect x="1749" y="981" width="1" height="13" fill="#000"/>
<rect x="1767" y="981" width="1" height="13" fill="#000"/>
<rect x="1785" y="981" width="1" height="13" fill="#000"/>
<rect x="1800" y="981" width="1" height="13" fill="#000"/>
<rect x="1818" y="969" width="1" height="25" fill="#000"/>
<rect x="1836" y="981" width="1" height="13" fill="#000"/>
<rect x="1854" y="981" width="1" height="13" fill="#000"/>
<rect x="1869" y="981" width="1" height="13" fill="#000"/>
<rect x="1887" y="981" width="1" height="13" fill="#000"/>
<rect x="1905" y="969" width="1" height="25" fill="#000"/>
<rect x="1920" y="981" width="1" height="13" fill="#000"/>
<rect x="1938" y="981" width="1" height="13" fill="#000"/>
<rect x="1956" y="981" width="1" height="13" fill="#000"/>
<rect x="1974" y="981" width="1" height="13" fill="#000"/>
<rect x="1989" y="969" width="1" height="25" fill="#000"/>
<rect x="2007" y="981" width="1" height="13" fill="#000"/>
<rect x="2025" y="981" width="1" height="13" fill="#000"/>
<rect x="2043" y="981" width="1" height="13" fill="#000"/>
<rect x="2058" y="981" width="1" height="13" fill="#000"/>
<rect x="2076" y="969" width="1" height="25" fill="#000"/>
<rect x="2094" y="981" width="1" height="13" fill="#000"/>
<rect x="2109" y="981" width="1" height="13" fill="#000"/>
<rect x="2127" y="981" width="1" height="13" fill="#000"/>
<rect x="2145" y="981" width="1" height="13" fill="#000"/>
<rect x="2163" y="969" width="1" height="25" fill="#000"/>
<rect x="2178" y="981" width="1" height="13" fill="#000"/>
<rect x="2196" y="981" width="1" height="13" fill="#000"/>
<rect x="2214" y="981" width="1" height="13" fill="#000"/>
<rect x="2232" y="981" width="1" height="13" fill="#000"/>
<rect x="2247" y="969" width="1" height="25" fill="#000"/>
<rect x="1389" y="993" width="28" height="1" fill="#000"/>
<rect x="1389" y="966" width="13" height="1" fill="#000"/>
<rect x="1389" y="936" width="13" height="1" fill="#000"/>
<rect x="1389" y="906" width="13" height="1" fill="#000"/>
<rect x="1389" y="876" width="13" height="1" fill="#000"/>
<rect x="1389" y="849" width="28" height="1" fill="#000"/>
<rect x="1389" y="819" width="13" height="1" fill="#000"/>
<rect x="1389" y="789" width="13" height="1" fill="#000"/>
<rect x="1389" y="759" width="13" height="1" fill="#000"/>
<rect x="1389" y="732" width="13" height="1" fill="#000"/>
<rect x="1389" y="702" width="28" height="1" fill="#000"/>
<rect x="1389" y="672" width="13" height="1" fill="#000"/>
<rect x="1389" y="642" width="13" height="1" fill="#000"/>
<rect x="1389" y="615" width="13" height="1" fill="#000"/>
<rect x="1389" y="585" width="13" height="1" fill="#000"/>
<rect x="1389" y="555" width="28" height="1" fill="#000"/>
<rect x="1389" y="528" width="13" height="1" fill="#000"/>
<rect x="1389" y="498" width="13" height="1" fill="#000"/>
<rect x="1389" y="468" width="13" height="1" fill="#000"/>
<rect x="1389" y="438" width="13" height="1" fill="#000"/>
<rect x="1389" y="411" width="28" height="1" fill="#000"/>
<rect x="1389" y="381" width="13" height="1" fill="#000"/>
<rect x="1389" y="351" width="13" height="1" fill="#000"/>
<rect x="1389" y="321" width="13" height="1" fill="#000"/>
<rect x="1389" y="294" width="13" height="1" fill="#000"/>
<rect x="1389" y="264" width="28" height="1" fill="#000"/>
<rect x="1389" y="234" width="13" height="1" fill="#000"/>
<rect x="1389" y="204" width="13" height="1" fill="#000"/>
<rect x="1389" y="177" width="13" height="1" fill="#000"/>
<rect x="1389" y="147" width="13" height="1" fill="#000"/>
</g>
<g font-family="'Liberation Sans', sans-serif" fill="#000" stroke="#000" stroke-width="0.35">
<text x="1386.40" y="1030" font-size="36" text-anchor="middle">0</text>
<text x="1470.40" y="1030" font-size="36" text-anchor="middle">1</text>
<text x="1557.40" y="1030" font-size="36" text-anchor="middle">2</text>
<text x="1644.40" y="1030" font-size="36" text-anchor="middle">3</text>
<text x="1728.40" y="1030" font-size="36" text-anchor="middle">4</text>
<text x="1815.40" y="1030" font-size="36" text-anchor="middle">5</text>
<text x="1902.40" y="1030" font-size="36" text-anchor="middle">6</text>
<text x="1986.40" y="1030" font-size="36" text-anchor="middle">7</text>
<text x="2073.40" y="1030" font-size="36" text-anchor="middle">8</text>
<text x="2160.40" y="1030" font-size="36" text-anchor="middle">9</text>
<text x="2227.35" y="1030" font-size="36" textLength="37.3" lengthAdjust="spacingAndGlyphs">10</text>
<text x="1381.60" y="1009" font-size="36" text-anchor="end">0</text>
<text x="1382.60" y="865" font-size="36" text-anchor="end">10</text>
<text x="1382.60" y="718" font-size="36" text-anchor="end">20</text>
<text x="1382.60" y="571" font-size="36" text-anchor="end">30</text>
<text x="1382.60" y="427" font-size="36" text-anchor="end">40</text>
<text x="1382.60" y="280" font-size="36" text-anchor="end">50</text>
<text x="2246.40" y="1068" font-size="33.5" text-anchor="end">x</text>
<text transform="translate(1311.10 353.5) rotate(-90)" font-size="36" textLength="226.3" lengthAdjust="spacingAndGlyphs">Events / ( 0.1 )</text>
<text x="1409.70" y="63.7" font-size="33.6" textLength="740.1" lengthAdjust="spacingAndGlyphs">Component plotting of pdf=(sig1+sig2)+(bkg1+bkg2)</text>
</g>
</svg></body></html>
